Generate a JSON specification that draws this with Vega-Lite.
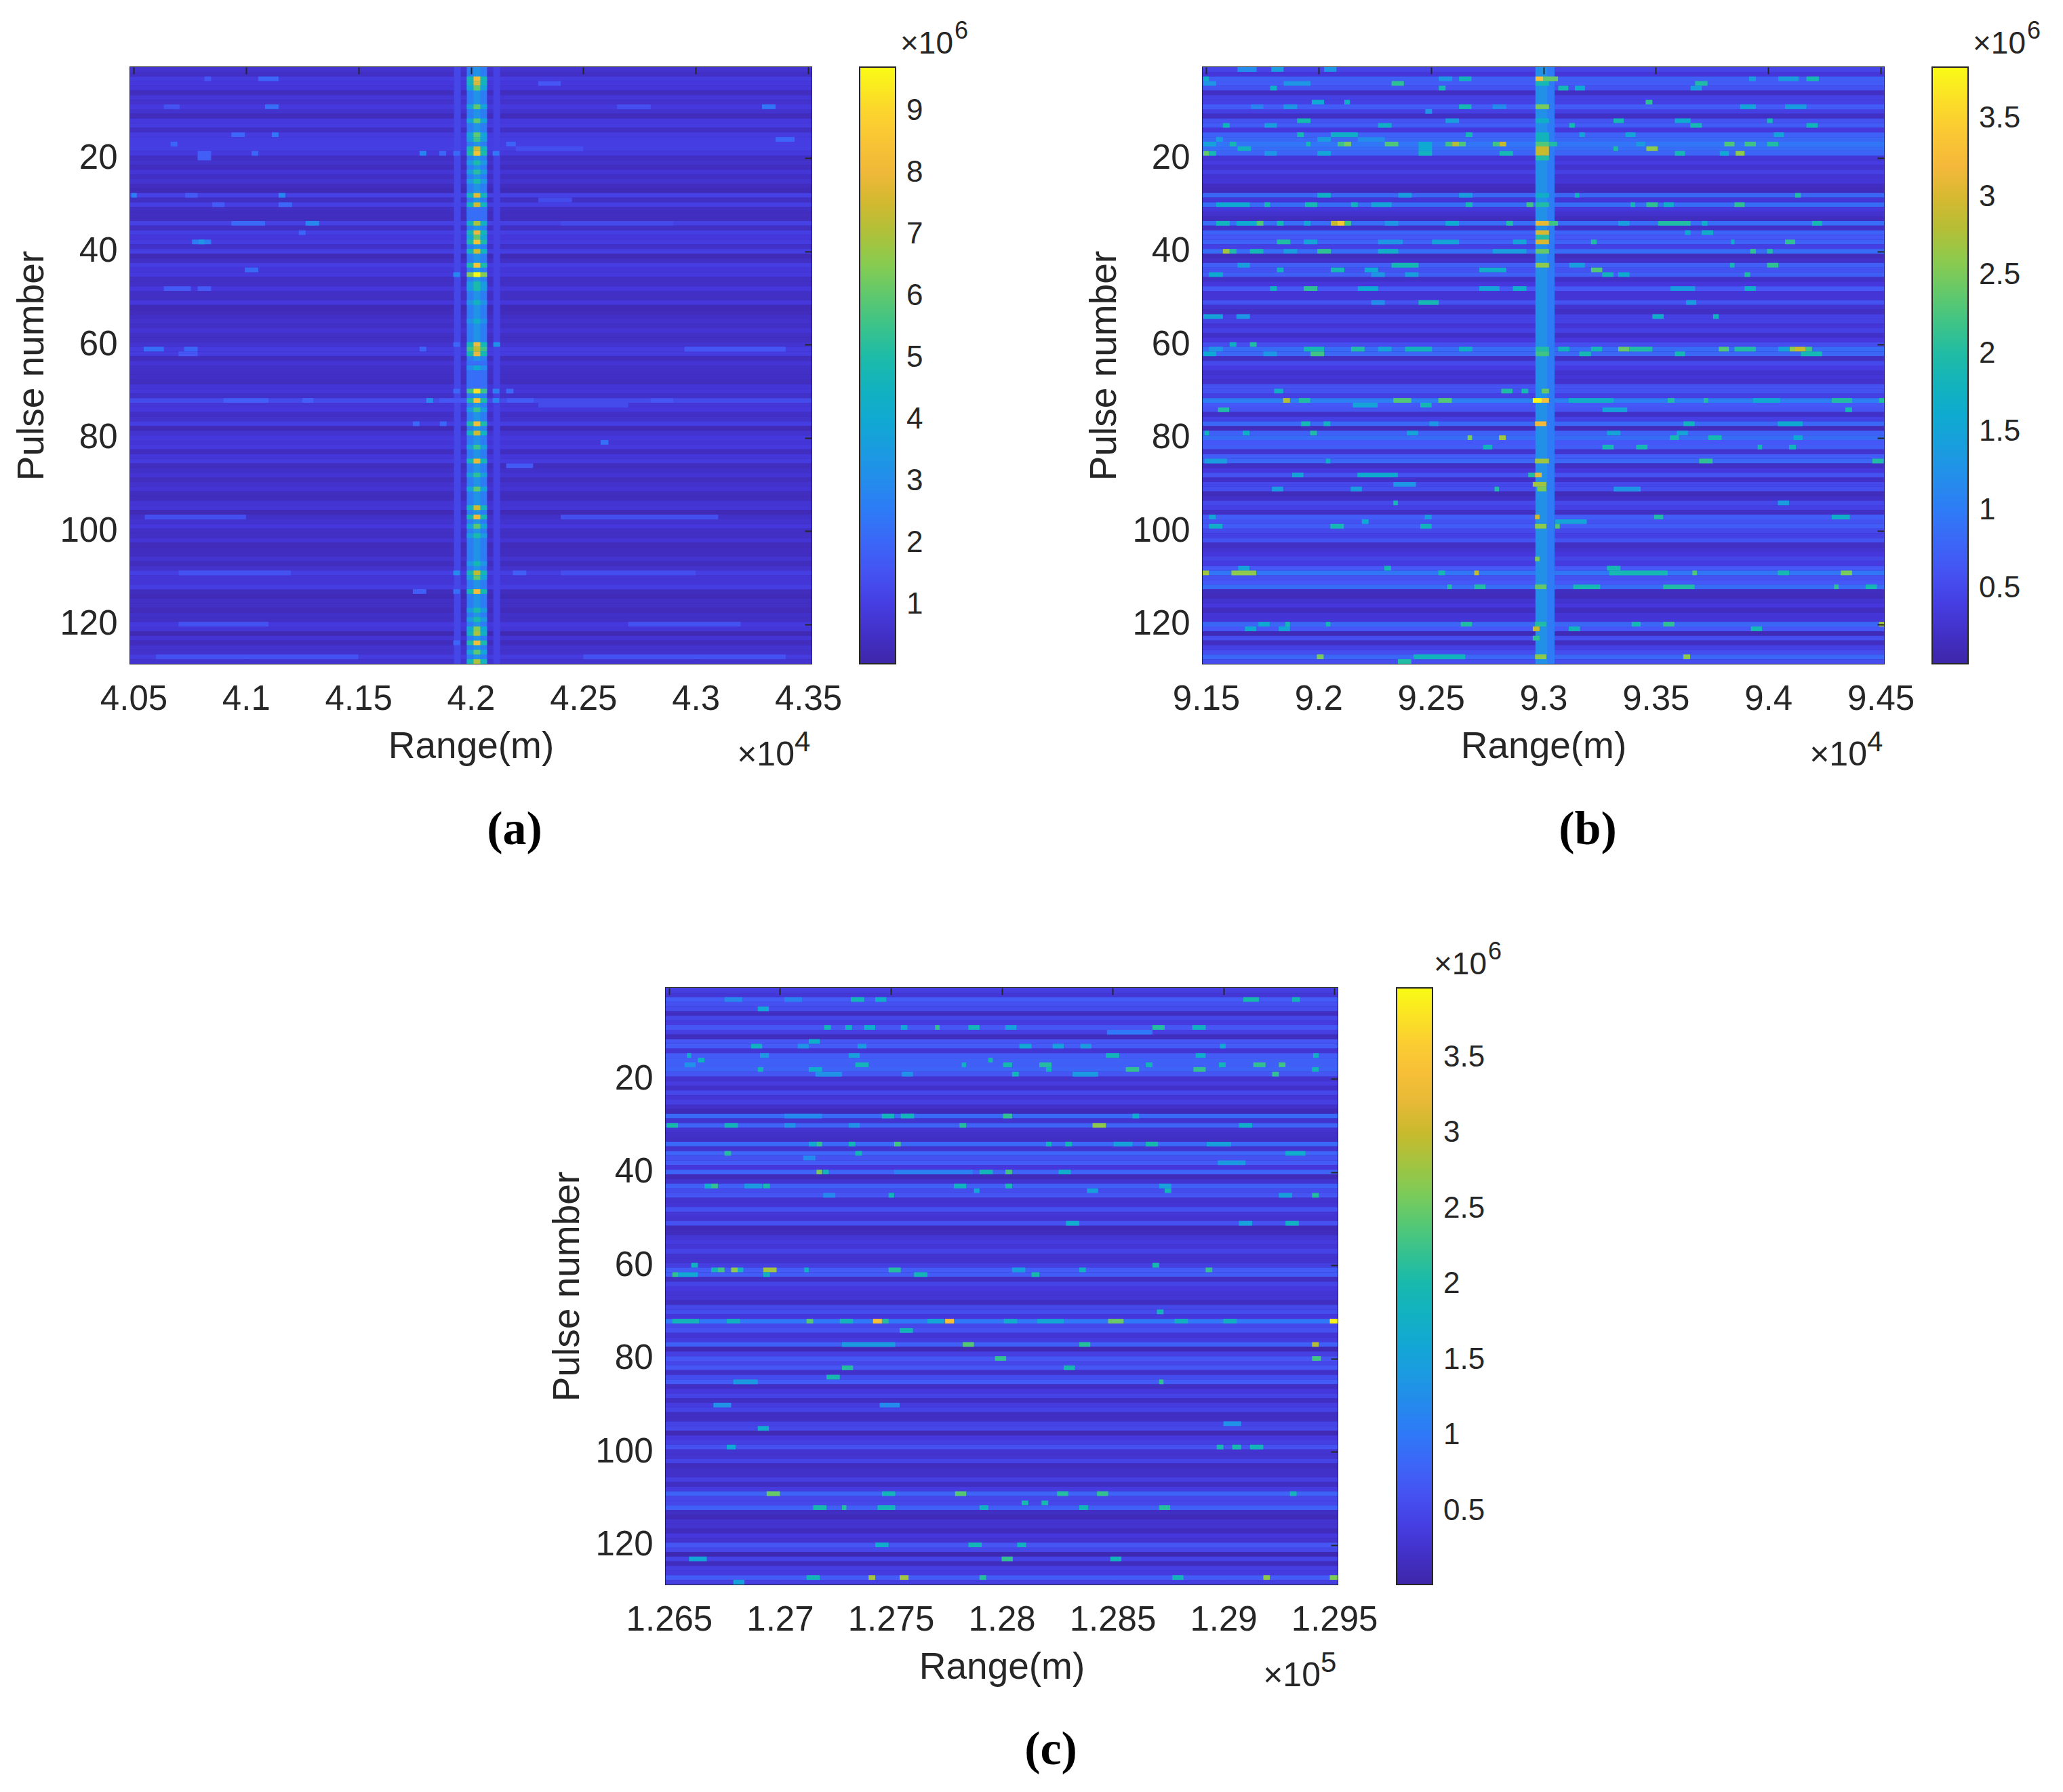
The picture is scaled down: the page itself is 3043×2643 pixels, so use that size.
{"$schema":"https://vega.github.io/schema/vega-lite/v6.json","padding":{"left":18,"top":27,"right":0,"bottom":0},"background":"white","config":{"view":{"stroke":"#262626","strokeWidth":2,"fill":"#3b2bb0"},"font":"Liberation Sans","axis":{"labelFont":"Liberation Sans","titleFont":"Liberation Sans","labelFontSize":51,"titleFontSize":55,"labelColor":"#262626","titleColor":"#262626","tickColor":"#262626","domain":false,"grid":false,"tickSize":-10,"tickWidth":2,"titleFontWeight":"normal"},"legend":{"labelFont":"Liberation Sans","labelFontSize":44,"labelColor":"#262626"}},"datasets":{
"ab":[{"y":0.5,"y2":1.5,"v":0.65},{"y":1.5,"y2":2.5,"v":0.5},{"y":2.5,"y2":3.5,"v":0.95},{"y":3.5,"y2":4.5,"v":0.85},{"y":4.5,"y2":5.5,"v":0.8},{"y":5.5,"y2":6.5,"v":0.38},{"y":6.5,"y2":7.5,"v":0.75},{"y":7.5,"y2":8.5,"v":0.6},{"y":8.5,"y2":9.5,"v":0.9},{"y":9.5,"y2":10.5,"v":0.65},{"y":10.5,"y2":11.5,"v":0.33},{"y":11.5,"y2":12.5,"v":0.9},{"y":12.5,"y2":13.5,"v":0.95},{"y":13.5,"y2":14.5,"v":0.5},{"y":14.5,"y2":15.5,"v":0.95},{"y":15.5,"y2":16.5,"v":1},{"y":16.5,"y2":17.5,"v":1},{"y":17.5,"y2":18.5,"v":1.05},{"y":18.5,"y2":19.5,"v":0.9},{"y":19.5,"y2":20.5,"v":0.46},{"y":20.5,"y2":21.5,"v":0.6},{"y":21.5,"y2":22.5,"v":0.42},{"y":22.5,"y2":23.5,"v":0.75},{"y":23.5,"y2":24.5,"v":0.5},{"y":24.5,"y2":25.5,"v":0.65},{"y":25.5,"y2":26.5,"v":0.42},{"y":26.5,"y2":27.5,"v":0.3},{"y":27.5,"y2":28.5,"v":1.1},{"y":28.5,"y2":29.5,"v":0.46},{"y":29.5,"y2":30.5,"v":1.05},{"y":30.5,"y2":31.5,"v":0.46},{"y":31.5,"y2":32.5,"v":0.42},{"y":32.5,"y2":33.5,"v":0.38},{"y":33.5,"y2":34.5,"v":1.1},{"y":34.5,"y2":35.5,"v":0.46},{"y":35.5,"y2":36.5,"v":1.05},{"y":36.5,"y2":37.5,"v":0.85},{"y":37.5,"y2":38.5,"v":0.95},{"y":38.5,"y2":39.5,"v":0.55},{"y":39.5,"y2":40.5,"v":1.05},{"y":40.5,"y2":41.5,"v":0.3},{"y":41.5,"y2":42.5,"v":0.46},{"y":42.5,"y2":43.5,"v":1},{"y":43.5,"y2":44.5,"v":0.8},{"y":44.5,"y2":45.5,"v":0.9},{"y":45.5,"y2":46.5,"v":0.46},{"y":46.5,"y2":47.5,"v":0.5},{"y":47.5,"y2":48.5,"v":0.85},{"y":48.5,"y2":49.5,"v":0.5},{"y":49.5,"y2":50.5,"v":0.46},{"y":50.5,"y2":51.5,"v":0.85},{"y":51.5,"y2":52.5,"v":0.3},{"y":52.5,"y2":53.5,"v":0.33},{"y":53.5,"y2":54.5,"v":0.5},{"y":54.5,"y2":55.5,"v":0.6},{"y":55.5,"y2":56.5,"v":0.5},{"y":56.5,"y2":57.5,"v":0.7},{"y":57.5,"y2":58.5,"v":0.46},{"y":58.5,"y2":59.5,"v":0.46},{"y":59.5,"y2":60.5,"v":0.65},{"y":60.5,"y2":61.5,"v":0.95},{"y":61.5,"y2":62.5,"v":0.95},{"y":62.5,"y2":63.5,"v":0.38},{"y":63.5,"y2":64.5,"v":0.7},{"y":64.5,"y2":65.5,"v":0.55},{"y":65.5,"y2":66.5,"v":0.5},{"y":66.5,"y2":67.5,"v":0.5},{"y":67.5,"y2":68.5,"v":0.38},{"y":68.5,"y2":69.5,"v":0.75},{"y":69.5,"y2":70.5,"v":0.8},{"y":70.5,"y2":71.5,"v":0.55},{"y":71.5,"y2":72.5,"v":1.3},{"y":72.5,"y2":73.5,"v":0.75},{"y":73.5,"y2":74.5,"v":0.85},{"y":74.5,"y2":75.5,"v":0.5},{"y":75.5,"y2":76.5,"v":0.6},{"y":76.5,"y2":77.5,"v":1},{"y":77.5,"y2":78.5,"v":0.25},{"y":78.5,"y2":79.5,"v":0.65},{"y":79.5,"y2":80.5,"v":0.9},{"y":80.5,"y2":81.5,"v":0.75},{"y":81.5,"y2":82.5,"v":0.9},{"y":82.5,"y2":83.5,"v":0.42},{"y":83.5,"y2":84.5,"v":0.8},{"y":84.5,"y2":85.5,"v":0.95},{"y":85.5,"y2":86.5,"v":0.38},{"y":86.5,"y2":87.5,"v":0.55},{"y":87.5,"y2":88.5,"v":0.7},{"y":88.5,"y2":89.5,"v":0.38},{"y":89.5,"y2":90.5,"v":0.6},{"y":90.5,"y2":91.5,"v":0.7},{"y":91.5,"y2":92.5,"v":0.38},{"y":92.5,"y2":93.5,"v":0.38},{"y":93.5,"y2":94.5,"v":0.7},{"y":94.5,"y2":95.5,"v":0.75},{"y":95.5,"y2":96.5,"v":0.25},{"y":96.5,"y2":97.5,"v":0.55},{"y":97.5,"y2":98.5,"v":0.65},{"y":98.5,"y2":99.5,"v":0.85},{"y":99.5,"y2":100.5,"v":0.46},{"y":100.5,"y2":101.5,"v":0.46},{"y":101.5,"y2":102.5,"v":0.7},{"y":102.5,"y2":103.5,"v":0.33},{"y":103.5,"y2":104.5,"v":0.42},{"y":104.5,"y2":105.5,"v":0.42},{"y":105.5,"y2":106.5,"v":0.65},{"y":106.5,"y2":107.5,"v":0.38},{"y":107.5,"y2":108.5,"v":0.6},{"y":108.5,"y2":109.5,"v":1.05},{"y":109.5,"y2":110.5,"v":0.75},{"y":110.5,"y2":111.5,"v":0.75},{"y":111.5,"y2":112.5,"v":1},{"y":112.5,"y2":113.5,"v":0.38},{"y":113.5,"y2":114.5,"v":0.3},{"y":114.5,"y2":115.5,"v":0.46},{"y":115.5,"y2":116.5,"v":0.46},{"y":116.5,"y2":117.5,"v":0.33},{"y":117.5,"y2":118.5,"v":0.55},{"y":118.5,"y2":119.5,"v":0.46},{"y":119.5,"y2":120.5,"v":0.9},{"y":120.5,"y2":121.5,"v":0.75},{"y":121.5,"y2":122.5,"v":0.22},{"y":122.5,"y2":123.5,"v":0.7},{"y":123.5,"y2":124.5,"v":0.33},{"y":124.5,"y2":125.5,"v":0.65},{"y":125.5,"y2":126.5,"v":0.6},{"y":126.5,"y2":127.5,"v":0.95},{"y":127.5,"y2":128.5,"v":0.65}],
"as":[{"y":0.5,"y2":128.5,"x":41925,"x2":41955,"v":1.2},{"y":0.5,"y2":128.5,"x":42100,"x2":42130,"v":1.1},{"y":0.5,"y2":128.5,"x":41982,"x2":42072,"v":2.6},{"y":0.5,"y2":128.5,"x":42012,"x2":42042,"v":3.2},{"y":30.5,"y2":33.5,"x":41982,"x2":42072,"v":2.2},{"y":63.5,"y2":69.5,"x":41982,"x2":42072,"v":2.2},{"y":2.5,"y2":3.5,"x":41982,"x2":42072,"v":4.9},{"y":2.5,"y2":3.5,"x":42012,"x2":42042,"v":8.2},{"y":3.5,"y2":4.5,"x":41982,"x2":42072,"v":4.6},{"y":3.5,"y2":4.5,"x":42012,"x2":42042,"v":7.7},{"y":4.5,"y2":5.5,"x":41982,"x2":42072,"v":3.8},{"y":4.5,"y2":5.5,"x":42012,"x2":42042,"v":6},{"y":8.5,"y2":9.5,"x":41982,"x2":42072,"v":3.8},{"y":8.5,"y2":9.5,"x":42012,"x2":42042,"v":6},{"y":11.5,"y2":12.5,"x":41982,"x2":42072,"v":3.8},{"y":11.5,"y2":12.5,"x":42012,"x2":42042,"v":6},{"y":14.5,"y2":15.5,"x":41982,"x2":42072,"v":3.8},{"y":14.5,"y2":15.5,"x":42012,"x2":42042,"v":6},{"y":15.5,"y2":16.5,"x":41982,"x2":42072,"v":3.6},{"y":15.5,"y2":16.5,"x":42012,"x2":42042,"v":5.5},{"y":17.5,"y2":18.5,"x":41982,"x2":42072,"v":4.7},{"y":17.5,"y2":18.5,"x":42012,"x2":42042,"v":7.5},{"y":18.5,"y2":19.5,"x":41982,"x2":42072,"v":5},{"y":18.5,"y2":19.5,"x":42012,"x2":42042,"v":8.4},{"y":20.5,"y2":21.5,"x":41982,"x2":42072,"v":3.4},{"y":20.5,"y2":21.5,"x":42012,"x2":42042,"v":5},{"y":22.5,"y2":23.5,"x":41982,"x2":42072,"v":3.5},{"y":22.5,"y2":23.5,"x":42012,"x2":42042,"v":5.2},{"y":24.5,"y2":25.5,"x":41982,"x2":42072,"v":3.4},{"y":24.5,"y2":25.5,"x":42012,"x2":42042,"v":5},{"y":27.5,"y2":28.5,"x":41982,"x2":42072,"v":4.6},{"y":27.5,"y2":28.5,"x":42012,"x2":42042,"v":7.8},{"y":29.5,"y2":30.5,"x":41982,"x2":42072,"v":4.6},{"y":29.5,"y2":30.5,"x":42012,"x2":42042,"v":7.5},{"y":33.5,"y2":34.5,"x":41982,"x2":42072,"v":4.4},{"y":33.5,"y2":34.5,"x":42012,"x2":42042,"v":7},{"y":35.5,"y2":36.5,"x":41982,"x2":42072,"v":4.8},{"y":35.5,"y2":36.5,"x":42012,"x2":42042,"v":8},{"y":36.5,"y2":37.5,"x":41982,"x2":42072,"v":3.8},{"y":36.5,"y2":37.5,"x":42012,"x2":42042,"v":6},{"y":37.5,"y2":38.5,"x":41982,"x2":42072,"v":5},{"y":37.5,"y2":38.5,"x":42012,"x2":42042,"v":8.5},{"y":39.5,"y2":40.5,"x":41982,"x2":42072,"v":4.6},{"y":39.5,"y2":40.5,"x":42012,"x2":42042,"v":7.5},{"y":42.5,"y2":43.5,"x":41982,"x2":42072,"v":5},{"y":42.5,"y2":43.5,"x":42012,"x2":42042,"v":8.5},{"y":44.5,"y2":45.5,"x":41982,"x2":42072,"v":6.5},{"y":44.5,"y2":45.5,"x":42012,"x2":42042,"v":9.7},{"y":46.5,"y2":48.5,"x":41982,"x2":42072,"v":3.5},{"y":46.5,"y2":48.5,"x":42012,"x2":42042,"v":5},{"y":50.5,"y2":51.5,"x":41982,"x2":42072,"v":3.2},{"y":50.5,"y2":51.5,"x":42012,"x2":42042,"v":4.5},{"y":54.5,"y2":55.5,"x":41982,"x2":42072,"v":3.1},{"y":54.5,"y2":55.5,"x":42012,"x2":42042,"v":4.3},{"y":59.5,"y2":60.5,"x":41982,"x2":42072,"v":4.8},{"y":59.5,"y2":60.5,"x":42012,"x2":42042,"v":8.2},{"y":60.5,"y2":61.5,"x":41982,"x2":42072,"v":5.5},{"y":60.5,"y2":61.5,"x":42012,"x2":42042,"v":7.3},{"y":61.5,"y2":62.5,"x":41982,"x2":42072,"v":4.8},{"y":61.5,"y2":62.5,"x":42012,"x2":42042,"v":8},{"y":64.5,"y2":65.5,"x":41982,"x2":42072,"v":3},{"y":64.5,"y2":65.5,"x":42012,"x2":42042,"v":4},{"y":69.5,"y2":70.5,"x":41982,"x2":42072,"v":5.5},{"y":69.5,"y2":70.5,"x":42012,"x2":42042,"v":9.2},{"y":71.5,"y2":72.5,"x":41982,"x2":42072,"v":5},{"y":71.5,"y2":72.5,"x":42012,"x2":42042,"v":8.4},{"y":73.5,"y2":74.5,"x":41982,"x2":42072,"v":3.6},{"y":73.5,"y2":74.5,"x":42012,"x2":42042,"v":5.5},{"y":76.5,"y2":77.5,"x":41982,"x2":42072,"v":5},{"y":76.5,"y2":77.5,"x":42012,"x2":42042,"v":8.3},{"y":78.5,"y2":79.5,"x":41982,"x2":42072,"v":4.6},{"y":78.5,"y2":79.5,"x":42012,"x2":42042,"v":7.5},{"y":81.5,"y2":82.5,"x":41982,"x2":42072,"v":3.6},{"y":81.5,"y2":82.5,"x":42012,"x2":42042,"v":5.5},{"y":84.5,"y2":85.5,"x":41982,"x2":42072,"v":4.7},{"y":84.5,"y2":85.5,"x":42012,"x2":42042,"v":7.9},{"y":87.5,"y2":88.5,"x":41982,"x2":42072,"v":3.6},{"y":87.5,"y2":88.5,"x":42012,"x2":42042,"v":5.3},{"y":90.5,"y2":91.5,"x":41982,"x2":42072,"v":3.8},{"y":90.5,"y2":91.5,"x":42012,"x2":42042,"v":6},{"y":94.5,"y2":95.5,"x":41982,"x2":42072,"v":4.6},{"y":94.5,"y2":95.5,"x":42012,"x2":42042,"v":7.5},{"y":96.5,"y2":97.5,"x":41982,"x2":42072,"v":4.9},{"y":96.5,"y2":97.5,"x":42012,"x2":42042,"v":8.2},{"y":98.5,"y2":99.5,"x":41982,"x2":42072,"v":3.8},{"y":98.5,"y2":99.5,"x":42012,"x2":42042,"v":6},{"y":100.5,"y2":101.5,"x":41982,"x2":42072,"v":3.5},{"y":100.5,"y2":101.5,"x":42012,"x2":42042,"v":5},{"y":106.5,"y2":107.5,"x":41982,"x2":42072,"v":3.3},{"y":106.5,"y2":107.5,"x":42012,"x2":42042,"v":4.8},{"y":108.5,"y2":109.5,"x":41982,"x2":42072,"v":4.8},{"y":108.5,"y2":109.5,"x":42012,"x2":42042,"v":7.3},{"y":109.5,"y2":110.5,"x":41982,"x2":42072,"v":3.8},{"y":109.5,"y2":110.5,"x":42012,"x2":42042,"v":6},{"y":112.5,"y2":113.5,"x":41982,"x2":42072,"v":4.9},{"y":112.5,"y2":113.5,"x":42012,"x2":42042,"v":8.2},{"y":116.5,"y2":117.5,"x":41982,"x2":42072,"v":3.5},{"y":116.5,"y2":117.5,"x":42012,"x2":42042,"v":5},{"y":118.5,"y2":119.5,"x":41982,"x2":42072,"v":3.5},{"y":118.5,"y2":119.5,"x":42012,"x2":42042,"v":5},{"y":120.5,"y2":121.5,"x":41982,"x2":42072,"v":4},{"y":120.5,"y2":121.5,"x":42012,"x2":42042,"v":6.5},{"y":121.5,"y2":122.5,"x":41982,"x2":42072,"v":4.4},{"y":121.5,"y2":122.5,"x":42012,"x2":42042,"v":7},{"y":123.5,"y2":124.5,"x":41982,"x2":42072,"v":5},{"y":123.5,"y2":124.5,"x":42012,"x2":42042,"v":8.3},{"y":125.5,"y2":126.5,"x":41982,"x2":42072,"v":3.8},{"y":125.5,"y2":126.5,"x":42012,"x2":42042,"v":6},{"y":127.5,"y2":128.5,"x":41982,"x2":42072,"v":4.6},{"y":127.5,"y2":128.5,"x":42012,"x2":42042,"v":7},
{"y":27.5,"y2":28.5,"x":40490,"x2":40515,"v":2.6},{"y":27.5,"y2":28.5,"x":40730,"x2":40785,"v":1.7},{"y":27.5,"y2":28.5,"x":41145,"x2":41175,"v":2.8},{"y":29.5,"y2":30.5,"x":40850,"x2":40905,"v":1.7},{"y":29.5,"y2":30.5,"x":41145,"x2":41205,"v":2},{"y":33.5,"y2":34.5,"x":40935,"x2":41085,"v":2.1},{"y":33.5,"y2":34.5,"x":41265,"x2":41325,"v":2.9},{"y":37.5,"y2":38.5,"x":40760,"x2":40845,"v":2.6},{"y":37.5,"y2":38.5,"x":40790,"x2":40815,"v":3.2},{"y":35.5,"y2":36.5,"x":41235,"x2":41265,"v":2},{"y":43.5,"y2":44.5,"x":40995,"x2":41055,"v":2.1},{"y":47.5,"y2":48.5,"x":40635,"x2":40755,"v":1.7},{"y":47.5,"y2":48.5,"x":40785,"x2":40845,"v":1.7},{"y":60.5,"y2":61.5,"x":40545,"x2":40635,"v":2.2},{"y":60.5,"y2":61.5,"x":40725,"x2":40785,"v":2},{"y":2.5,"y2":3.5,"x":40815,"x2":40845,"v":1.6},{"y":2.5,"y2":3.5,"x":41055,"x2":41145,"v":2},{"y":8.5,"y2":9.5,"x":41085,"x2":41145,"v":2.2},{"y":8.5,"y2":9.5,"x":40635,"x2":40705,"v":1.5},{"y":14.5,"y2":15.5,"x":40935,"x2":40995,"v":2},{"y":14.5,"y2":15.5,"x":41115,"x2":41145,"v":2.4},{"y":16.5,"y2":17.5,"x":40665,"x2":40695,"v":2},{"y":18.5,"y2":20.5,"x":40785,"x2":40845,"v":1.8},{"y":18.5,"y2":19.5,"x":41025,"x2":41055,"v":2},{"y":61.5,"y2":62.5,"x":40700,"x2":40785,"v":1.6},{"y":60.5,"y2":61.5,"x":42950,"x2":43400,"v":1.6},{"y":17.5,"y2":18.5,"x":42200,"x2":42500,"v":1.4},{"y":71.5,"y2":72.5,"x":40900,"x2":41100,"v":1.8},{"y":71.5,"y2":72.5,"x":41250,"x2":41300,"v":1.8},{"y":71.5,"y2":72.5,"x":42800,"x2":42900,"v":1.6},{"y":3.5,"y2":4.5,"x":42300,"x2":42400,"v":1.6},{"y":18.5,"y2":19.5,"x":41772,"x2":41802,"v":2.8},{"y":18.5,"y2":19.5,"x":41860,"x2":41890,"v":2},{"y":18.5,"y2":19.5,"x":41922,"x2":41952,"v":2.1},{"y":18.5,"y2":19.5,"x":42097,"x2":42127,"v":2.4},{"y":71.5,"y2":72.5,"x":41802,"x2":41832,"v":3},{"y":71.5,"y2":72.5,"x":41860,"x2":41980,"v":1.6},{"y":71.5,"y2":72.5,"x":42097,"x2":42127,"v":2.8},{"y":71.5,"y2":72.5,"x":42160,"x2":42280,"v":1.7},{"y":69.5,"y2":70.5,"x":42097,"x2":42127,"v":2.6},{"y":69.5,"y2":70.5,"x":41922,"x2":41952,"v":2},{"y":69.5,"y2":70.5,"x":42157,"x2":42190,"v":2},{"y":44.5,"y2":45.5,"x":41922,"x2":41952,"v":2.9},{"y":85.5,"y2":86.5,"x":42157,"x2":42277,"v":1.7},{"y":108.5,"y2":109.5,"x":41922,"x2":41952,"v":3},{"y":108.5,"y2":109.5,"x":42187,"x2":42247,"v":1.8},{"y":112.5,"y2":113.5,"x":41742,"x2":41802,"v":1.8},{"y":112.5,"y2":113.5,"x":41922,"x2":41952,"v":2.2},{"y":123.5,"y2":124.5,"x":41922,"x2":41952,"v":2},{"y":16.5,"y2":17.5,"x":42157,"x2":42200,"v":1.9},{"y":80.5,"y2":81.5,"x":42577,"x2":42612,"v":2.2},{"y":59.5,"y2":60.5,"x":42100,"x2":42130,"v":3.1},{"y":59.5,"y2":60.5,"x":41922,"x2":41952,"v":2},{"y":60.5,"y2":61.5,"x":41772,"x2":41802,"v":1.9},{"y":76.5,"y2":77.5,"x":41742,"x2":41772,"v":2},{"y":76.5,"y2":77.5,"x":41862,"x2":41892,"v":2},{"y":8.5,"y2":9.5,"x":43295,"x2":43355,"v":2.4},{"y":15.5,"y2":16.5,"x":43355,"x2":43440,"v":2},{"y":8.5,"y2":9.5,"x":42650,"x2":42800,"v":1.4},{"y":28.5,"y2":29.5,"x":42300,"x2":42450,"v":1.3},{"y":33.5,"y2":34.5,"x":42400,"x2":42900,"v":1.3},{"y":72.5,"y2":73.5,"x":42300,"x2":42700,"v":1.3},{"y":108.5,"y2":109.5,"x":40700,"x2":41200,"v":1.5},{"y":108.5,"y2":109.5,"x":42400,"x2":43000,"v":1.4},{"y":126.5,"y2":127.5,"x":40600,"x2":41500,"v":1.5},{"y":126.5,"y2":127.5,"x":42500,"x2":43400,"v":1.5},{"y":119.5,"y2":120.5,"x":40700,"x2":41100,"v":1.5},{"y":119.5,"y2":120.5,"x":42700,"x2":43200,"v":1.5},{"y":96.5,"y2":97.5,"x":40550,"x2":41000,"v":1.4},{"y":96.5,"y2":97.5,"x":42400,"x2":43100,"v":1.4}],
"bb":[{"y":0.5,"y2":1.5,"v":0.46},{"y":1.5,"y2":2.5,"v":0.32},{"y":2.5,"y2":3.5,"v":0.72},{"y":3.5,"y2":4.5,"v":0.68},{"y":4.5,"y2":5.5,"v":0.6},{"y":5.5,"y2":6.5,"v":0.2},{"y":6.5,"y2":7.5,"v":0.42},{"y":7.5,"y2":8.5,"v":0.42},{"y":8.5,"y2":9.5,"v":0.68},{"y":9.5,"y2":10.5,"v":0.42},{"y":10.5,"y2":11.5,"v":0.2},{"y":11.5,"y2":12.5,"v":0.6},{"y":12.5,"y2":13.5,"v":0.7},{"y":13.5,"y2":14.5,"v":0.34},{"y":14.5,"y2":15.5,"v":0.75},{"y":15.5,"y2":16.5,"v":0.8},{"y":16.5,"y2":17.5,"v":0.95},{"y":17.5,"y2":18.5,"v":0.85},{"y":18.5,"y2":19.5,"v":0.78},{"y":19.5,"y2":20.5,"v":0.3},{"y":20.5,"y2":21.5,"v":0.38},{"y":21.5,"y2":22.5,"v":0.26},{"y":22.5,"y2":23.5,"v":0.42},{"y":23.5,"y2":24.5,"v":0.28},{"y":24.5,"y2":25.5,"v":0.3},{"y":25.5,"y2":26.5,"v":0.16},{"y":26.5,"y2":27.5,"v":0.14},{"y":27.5,"y2":28.5,"v":0.8},{"y":28.5,"y2":29.5,"v":0.3},{"y":29.5,"y2":30.5,"v":0.85},{"y":30.5,"y2":31.5,"v":0.34},{"y":31.5,"y2":32.5,"v":0.24},{"y":32.5,"y2":33.5,"v":0.16},{"y":33.5,"y2":34.5,"v":0.85},{"y":34.5,"y2":35.5,"v":0.22},{"y":35.5,"y2":36.5,"v":0.75},{"y":36.5,"y2":37.5,"v":0.65},{"y":37.5,"y2":38.5,"v":0.75},{"y":38.5,"y2":39.5,"v":0.42},{"y":39.5,"y2":40.5,"v":0.85},{"y":40.5,"y2":41.5,"v":0.14},{"y":41.5,"y2":42.5,"v":0.22},{"y":42.5,"y2":43.5,"v":0.72},{"y":43.5,"y2":44.5,"v":0.6},{"y":44.5,"y2":45.5,"v":0.72},{"y":45.5,"y2":46.5,"v":0.22},{"y":46.5,"y2":47.5,"v":0.34},{"y":47.5,"y2":48.5,"v":0.65},{"y":48.5,"y2":49.5,"v":0.3},{"y":49.5,"y2":50.5,"v":0.3},{"y":50.5,"y2":51.5,"v":0.6},{"y":51.5,"y2":52.5,"v":0.26},{"y":52.5,"y2":53.5,"v":0.2},{"y":53.5,"y2":54.5,"v":0.42},{"y":54.5,"y2":55.5,"v":0.42},{"y":55.5,"y2":56.5,"v":0.3},{"y":56.5,"y2":57.5,"v":0.42},{"y":57.5,"y2":58.5,"v":0.22},{"y":58.5,"y2":59.5,"v":0.34},{"y":59.5,"y2":60.5,"v":0.55},{"y":60.5,"y2":61.5,"v":0.85},{"y":61.5,"y2":62.5,"v":0.8},{"y":62.5,"y2":63.5,"v":0.2},{"y":63.5,"y2":64.5,"v":0.5},{"y":64.5,"y2":65.5,"v":0.38},{"y":65.5,"y2":66.5,"v":0.26},{"y":66.5,"y2":67.5,"v":0.3},{"y":67.5,"y2":68.5,"v":0.24},{"y":68.5,"y2":69.5,"v":0.6},{"y":69.5,"y2":70.5,"v":0.6},{"y":70.5,"y2":71.5,"v":0.42},{"y":71.5,"y2":72.5,"v":1.05},{"y":72.5,"y2":73.5,"v":0.65},{"y":73.5,"y2":74.5,"v":0.6},{"y":74.5,"y2":75.5,"v":0.22},{"y":75.5,"y2":76.5,"v":0.42},{"y":76.5,"y2":77.5,"v":0.8},{"y":77.5,"y2":78.5,"v":0.14},{"y":78.5,"y2":79.5,"v":0.75},{"y":79.5,"y2":80.5,"v":0.85},{"y":80.5,"y2":81.5,"v":0.65},{"y":81.5,"y2":82.5,"v":0.7},{"y":82.5,"y2":83.5,"v":0.26},{"y":83.5,"y2":84.5,"v":0.7},{"y":84.5,"y2":85.5,"v":0.8},{"y":85.5,"y2":86.5,"v":0.2},{"y":86.5,"y2":87.5,"v":0.34},{"y":87.5,"y2":88.5,"v":0.6},{"y":88.5,"y2":89.5,"v":0.22},{"y":89.5,"y2":90.5,"v":0.5},{"y":90.5,"y2":91.5,"v":0.55},{"y":91.5,"y2":92.5,"v":0.14},{"y":92.5,"y2":93.5,"v":0.22},{"y":93.5,"y2":94.5,"v":0.5},{"y":94.5,"y2":95.5,"v":0.42},{"y":95.5,"y2":96.5,"v":0.2},{"y":96.5,"y2":97.5,"v":0.7},{"y":97.5,"y2":98.5,"v":0.6},{"y":98.5,"y2":99.5,"v":0.7},{"y":99.5,"y2":100.5,"v":0.5},{"y":100.5,"y2":101.5,"v":0.42},{"y":101.5,"y2":102.5,"v":0.6},{"y":102.5,"y2":103.5,"v":0.2},{"y":103.5,"y2":104.5,"v":0.26},{"y":104.5,"y2":105.5,"v":0.34},{"y":105.5,"y2":106.5,"v":0.46},{"y":106.5,"y2":107.5,"v":0.38},{"y":107.5,"y2":108.5,"v":0.65},{"y":108.5,"y2":109.5,"v":0.95},{"y":109.5,"y2":110.5,"v":0.6},{"y":110.5,"y2":111.5,"v":0.65},{"y":111.5,"y2":112.5,"v":0.85},{"y":112.5,"y2":113.5,"v":0.16},{"y":113.5,"y2":114.5,"v":0.14},{"y":114.5,"y2":115.5,"v":0.26},{"y":115.5,"y2":116.5,"v":0.34},{"y":116.5,"y2":117.5,"v":0.16},{"y":117.5,"y2":118.5,"v":0.3},{"y":118.5,"y2":119.5,"v":0.3},{"y":119.5,"y2":120.5,"v":0.8},{"y":120.5,"y2":121.5,"v":0.65},{"y":121.5,"y2":122.5,"v":0.12},{"y":122.5,"y2":123.5,"v":0.55},{"y":123.5,"y2":124.5,"v":0.18},{"y":124.5,"y2":125.5,"v":0.42},{"y":125.5,"y2":126.5,"v":0.55},{"y":126.5,"y2":127.5,"v":0.8},{"y":127.5,"y2":128.5,"v":0.55}],
"bs":[{"y":0.5,"y2":128.5,"x":92965,"x2":93050,"v":1},{"y":0.5,"y2":128.5,"x":92965,"x2":93017,"v":1.25},{"y":2.5,"y2":3.5,"x":92965,"x2":93000,"v":3.3},{"y":2.5,"y2":3.5,"x":93000,"x2":93065,"v":2.4},{"y":3.5,"y2":4.5,"x":92965,"x2":93025,"v":1.9},{"y":8.5,"y2":9.5,"x":92965,"x2":93025,"v":2.5},{"y":11.5,"y2":12.5,"x":92965,"x2":93025,"v":1.7},{"y":14.5,"y2":16.5,"x":92965,"x2":93025,"v":1.8},{"y":16.5,"y2":17.5,"x":92965,"x2":93025,"v":2.3},{"y":17.5,"y2":19.5,"x":92965,"x2":93025,"v":2.9},{"y":19.5,"y2":20.5,"x":92965,"x2":93025,"v":2},{"y":27.5,"y2":28.5,"x":92965,"x2":93025,"v":1.7},{"y":29.5,"y2":30.5,"x":92965,"x2":93025,"v":2},{"y":33.5,"y2":34.5,"x":92965,"x2":93025,"v":3.1},{"y":35.5,"y2":36.5,"x":92965,"x2":93025,"v":3},{"y":36.5,"y2":37.5,"x":92965,"x2":93025,"v":2},{"y":37.5,"y2":38.5,"x":92965,"x2":93025,"v":3},{"y":39.5,"y2":40.5,"x":92965,"x2":93025,"v":2.4},{"y":42.5,"y2":43.5,"x":92965,"x2":93025,"v":2.6},{"y":60.5,"y2":61.5,"x":92965,"x2":93025,"v":2},{"y":61.5,"y2":62.5,"x":92965,"x2":93025,"v":2.2},{"y":0.5,"y2":1.5,"x":91640,"x2":91725,"v":1.2},{"y":0.5,"y2":1.5,"x":91790,"x2":91845,"v":1.4},{"y":0.5,"y2":1.5,"x":92025,"x2":92080,"v":1.3},{"y":2.5,"y2":3.5,"x":91488,"x2":91513,"v":1.7},{"y":2.5,"y2":3.5,"x":92535,"x2":92595,"v":1.3},{"y":2.5,"y2":3.5,"x":92625,"x2":92680,"v":1.8},{"y":3.5,"y2":4.5,"x":91488,"x2":91545,"v":1.3},{"y":3.5,"y2":4.5,"x":91845,"x2":91965,"v":1.3},{"y":3.5,"y2":4.5,"x":92325,"x2":92380,"v":2.1},{"y":4.5,"y2":5.5,"x":91785,"x2":91815,"v":1.7},{"y":4.5,"y2":5.5,"x":92535,"x2":92565,"v":1.9},{"y":7.5,"y2":8.5,"x":91970,"x2":92025,"v":1.6},{"y":7.5,"y2":8.5,"x":92115,"x2":92140,"v":1.7},{"y":8.5,"y2":9.5,"x":91845,"x2":91905,"v":1.3},{"y":8.5,"y2":9.5,"x":92625,"x2":92680,"v":1.9},{"y":8.5,"y2":9.5,"x":91700,"x2":91755,"v":1.1},{"y":8.5,"y2":9.5,"x":92775,"x2":92835,"v":1.2},{"y":9.5,"y2":10.5,"x":92475,"x2":92505,"v":1.3},{"y":11.5,"y2":12.5,"x":91905,"x2":91965,"v":1.9},{"y":11.5,"y2":12.5,"x":92565,"x2":92625,"v":1.4},{"y":12.5,"y2":13.5,"x":91575,"x2":91605,"v":1.8},{"y":12.5,"y2":13.5,"x":91760,"x2":91815,"v":1.4},{"y":12.5,"y2":13.5,"x":92265,"x2":92325,"v":1.7},{"y":14.5,"y2":15.5,"x":91905,"x2":91935,"v":1.9},{"y":14.5,"y2":15.5,"x":92055,"x2":92175,"v":1.7},{"y":14.5,"y2":15.5,"x":92655,"x2":92685,"v":1.9},{"y":15.5,"y2":16.5,"x":91995,"x2":92055,"v":1.4},{"y":15.5,"y2":16.5,"x":91545,"x2":91575,"v":1.4},{"y":15.5,"y2":16.5,"x":92175,"x2":92295,"v":1.2},{"y":16.5,"y2":17.5,"x":91488,"x2":91545,"v":1.5},{"y":16.5,"y2":17.5,"x":91605,"x2":91635,"v":1.9},{"y":16.5,"y2":17.5,"x":92085,"x2":92115,"v":2.2},{"y":16.5,"y2":17.5,"x":92115,"x2":92145,"v":2.5},{"y":16.5,"y2":17.5,"x":92295,"x2":92355,"v":2.3},{"y":16.5,"y2":17.5,"x":92565,"x2":92595,"v":2.2},{"y":16.5,"y2":17.5,"x":92595,"x2":92625,"v":2.8},{"y":16.5,"y2":17.5,"x":92625,"x2":92655,"v":2.3},{"y":16.5,"y2":17.5,"x":92775,"x2":92805,"v":2.2},{"y":16.5,"y2":17.5,"x":92805,"x2":92835,"v":2.9},{"y":16.5,"y2":17.5,"x":92445,"x2":92505,"v":1.6},{"y":16.5,"y2":17.5,"x":91945,"x2":91965,"v":1.9},{"y":17.5,"y2":18.5,"x":91640,"x2":91700,"v":1.8},{"y":17.5,"y2":18.5,"x":92445,"x2":92505,"v":1.6},{"y":18.5,"y2":19.5,"x":91488,"x2":91513,"v":2.4},{"y":18.5,"y2":19.5,"x":91513,"x2":91545,"v":1.9},{"y":18.5,"y2":19.5,"x":91995,"x2":92055,"v":1.5},{"y":18.5,"y2":19.5,"x":92445,"x2":92505,"v":1.8},{"y":18.5,"y2":19.5,"x":91760,"x2":91815,"v":1.3},{"y":18.5,"y2":19.5,"x":92805,"x2":92865,"v":1.9},{"y":27.5,"y2":28.5,"x":91995,"x2":92055,"v":1.7},{"y":27.5,"y2":28.5,"x":92355,"x2":92415,"v":1.4},{"y":27.5,"y2":28.5,"x":92625,"x2":92685,"v":1.4},{"y":29.5,"y2":30.5,"x":91545,"x2":91695,"v":1.6},{"y":29.5,"y2":30.5,"x":91760,"x2":91785,"v":1.9},{"y":29.5,"y2":30.5,"x":91940,"x2":91995,"v":1.9},{"y":29.5,"y2":30.5,"x":92145,"x2":92175,"v":1.8},{"y":29.5,"y2":30.5,"x":92235,"x2":92325,"v":1.5},{"y":29.5,"y2":30.5,"x":92655,"x2":92685,"v":1.9},{"y":29.5,"y2":30.5,"x":92925,"x2":92955,"v":2.2},{"y":33.5,"y2":34.5,"x":91545,"x2":91605,"v":1.8},{"y":33.5,"y2":34.5,"x":91635,"x2":91725,"v":1.6},{"y":33.5,"y2":34.5,"x":91725,"x2":91755,"v":2.3},{"y":33.5,"y2":34.5,"x":91815,"x2":91845,"v":1.9},{"y":33.5,"y2":34.5,"x":91935,"x2":91965,"v":1.5},{"y":33.5,"y2":34.5,"x":92055,"x2":92085,"v":2.9},{"y":33.5,"y2":34.5,"x":92085,"x2":92115,"v":3.4},{"y":33.5,"y2":34.5,"x":92115,"x2":92145,"v":2.2},{"y":33.5,"y2":34.5,"x":92565,"x2":92625,"v":1.6},{"y":33.5,"y2":34.5,"x":92835,"x2":92865,"v":2},{"y":33.5,"y2":34.5,"x":92295,"x2":92355,"v":1.3},{"y":37.5,"y2":38.5,"x":91815,"x2":91875,"v":2},{"y":37.5,"y2":38.5,"x":91935,"x2":91995,"v":1.5},{"y":37.5,"y2":38.5,"x":92505,"x2":92625,"v":1.5},{"y":37.5,"y2":38.5,"x":92265,"x2":92375,"v":1.3},{"y":37.5,"y2":38.5,"x":92865,"x2":92925,"v":1.5},{"y":39.5,"y2":40.5,"x":91575,"x2":91605,"v":2.7},{"y":39.5,"y2":40.5,"x":91605,"x2":91635,"v":2},{"y":39.5,"y2":40.5,"x":91695,"x2":91755,"v":1.9},{"y":39.5,"y2":40.5,"x":91845,"x2":91905,"v":1.4},{"y":39.5,"y2":40.5,"x":91995,"x2":92055,"v":2.1},{"y":39.5,"y2":40.5,"x":92265,"x2":92355,"v":1.7},{"y":39.5,"y2":40.5,"x":92775,"x2":92925,"v":1.4},{"y":42.5,"y2":43.5,"x":91640,"x2":91695,"v":1.4},{"y":42.5,"y2":43.5,"x":92325,"x2":92445,"v":1.9},{"y":43.5,"y2":44.5,"x":91815,"x2":91845,"v":1.8},{"y":43.5,"y2":44.5,"x":92055,"x2":92115,"v":1.9},{"y":43.5,"y2":44.5,"x":92205,"x2":92265,"v":1.6},{"y":43.5,"y2":44.5,"x":92715,"x2":92835,"v":1.7},{"y":44.5,"y2":45.5,"x":91513,"x2":91575,"v":1.6},{"y":44.5,"y2":45.5,"x":92235,"x2":92295,"v":1.3},{"y":44.5,"y2":45.5,"x":92385,"x2":92445,"v":1.4},{"y":47.5,"y2":48.5,"x":91785,"x2":91815,"v":1.8},{"y":47.5,"y2":48.5,"x":91935,"x2":91995,"v":2.1},{"y":47.5,"y2":48.5,"x":92175,"x2":92265,"v":1.6},{"y":47.5,"y2":48.5,"x":92715,"x2":92805,"v":1.5},{"y":47.5,"y2":48.5,"x":92865,"x2":92925,"v":1.7},{"y":50.5,"y2":51.5,"x":92445,"x2":92535,"v":1.9},{"y":50.5,"y2":51.5,"x":92235,"x2":92295,"v":1.2},{"y":53.5,"y2":54.5,"x":91488,"x2":91575,"v":1.5},{"y":53.5,"y2":54.5,"x":91635,"x2":91695,"v":1.3},{"y":60.5,"y2":61.5,"x":91513,"x2":91575,"v":1.3},{"y":60.5,"y2":61.5,"x":91935,"x2":92025,"v":1.9},{"y":60.5,"y2":61.5,"x":92145,"x2":92205,"v":2},{"y":60.5,"y2":61.5,"x":92265,"x2":92325,"v":1.5},{"y":60.5,"y2":61.5,"x":92385,"x2":92505,"v":1.8},{"y":60.5,"y2":61.5,"x":92625,"x2":92685,"v":1.7},{"y":59.5,"y2":60.5,"x":91605,"x2":91635,"v":1.7},{"y":59.5,"y2":60.5,"x":91695,"x2":91725,"v":2},{"y":61.5,"y2":62.5,"x":91488,"x2":91545,"v":1.6},{"y":61.5,"y2":62.5,"x":91965,"x2":92025,"v":2.2},{"y":61.5,"y2":62.5,"x":91755,"x2":91815,"v":1.3},
{"y":3.5,"y2":4.5,"x":93675,"x2":93730,"v":2},{"y":4.5,"y2":5.5,"x":93066,"x2":93111,"v":1.9},{"y":4.5,"y2":5.5,"x":93140,"x2":93185,"v":1.6},{"y":4.5,"y2":5.5,"x":93655,"x2":93705,"v":1.4},{"y":2.5,"y2":3.5,"x":94170,"x2":94225,"v":1.9},{"y":2.5,"y2":3.5,"x":93915,"x2":93945,"v":1.4},{"y":2.5,"y2":3.5,"x":94045,"x2":94135,"v":1.4},{"y":7.5,"y2":8.5,"x":93455,"x2":93485,"v":2.1},{"y":8.5,"y2":9.5,"x":94075,"x2":94170,"v":1.4},{"y":8.5,"y2":9.5,"x":93875,"x2":93945,"v":1.5},{"y":11.5,"y2":12.5,"x":93312,"x2":93358,"v":1.9},{"y":11.5,"y2":12.5,"x":93585,"x2":93655,"v":1.6},{"y":11.5,"y2":12.5,"x":93995,"x2":94020,"v":1.9},{"y":12.5,"y2":13.5,"x":93115,"x2":93140,"v":1.9},{"y":12.5,"y2":13.5,"x":93654,"x2":93705,"v":1.9},{"y":12.5,"y2":13.5,"x":94170,"x2":94220,"v":1.8},{"y":14.5,"y2":15.5,"x":93160,"x2":93185,"v":1.5},{"y":14.5,"y2":15.5,"x":93365,"x2":93410,"v":1.5},{"y":14.5,"y2":15.5,"x":94025,"x2":94070,"v":1.5},{"y":16.5,"y2":17.5,"x":93805,"x2":93850,"v":2.3},{"y":16.5,"y2":17.5,"x":93895,"x2":93945,"v":2.2},{"y":16.5,"y2":17.5,"x":93995,"x2":94045,"v":2},{"y":16.5,"y2":17.5,"x":93026,"x2":93061,"v":2},{"y":16.5,"y2":17.5,"x":93413,"x2":93453,"v":1.4},{"y":17.5,"y2":18.5,"x":93458,"x2":93508,"v":2.6},{"y":17.5,"y2":18.5,"x":93312,"x2":93332,"v":2},{"y":18.5,"y2":19.5,"x":93855,"x2":93895,"v":2.6},{"y":18.5,"y2":19.5,"x":93585,"x2":93630,"v":1.9},{"y":18.5,"y2":19.5,"x":93785,"x2":93825,"v":1.6},{"y":27.5,"y2":28.5,"x":93140,"x2":93160,"v":1.8},{"y":27.5,"y2":28.5,"x":94120,"x2":94145,"v":2},{"y":29.5,"y2":30.5,"x":93388,"x2":93408,"v":1.9},{"y":29.5,"y2":30.5,"x":93458,"x2":93508,"v":2.1},{"y":29.5,"y2":30.5,"x":93535,"x2":93580,"v":1.7},{"y":29.5,"y2":30.5,"x":93850,"x2":93895,"v":2.1},{"y":33.5,"y2":34.5,"x":93025,"x2":93065,"v":2.2},{"y":33.5,"y2":34.5,"x":93510,"x2":93655,"v":2},{"y":33.5,"y2":34.5,"x":93705,"x2":93730,"v":1.7},{"y":33.5,"y2":34.5,"x":94195,"x2":94240,"v":1.9},{"y":33.5,"y2":34.5,"x":93333,"x2":93383,"v":1.4},{"y":35.5,"y2":36.5,"x":93630,"x2":93655,"v":1.6},{"y":35.5,"y2":36.5,"x":93705,"x2":93755,"v":1.7},{"y":37.5,"y2":38.5,"x":93212,"x2":93237,"v":2},{"y":37.5,"y2":38.5,"x":94075,"x2":94120,"v":2.1},{"y":37.5,"y2":38.5,"x":93835,"x2":93850,"v":1.7},{"y":39.5,"y2":40.5,"x":93920,"x2":93945,"v":2.1},{"y":39.5,"y2":40.5,"x":93995,"x2":94020,"v":2},{"y":42.5,"y2":43.5,"x":93995,"x2":94045,"v":2.1},{"y":42.5,"y2":43.5,"x":93115,"x2":93185,"v":1.4},{"y":42.5,"y2":43.5,"x":93830,"x2":93850,"v":1.9},{"y":43.5,"y2":44.5,"x":93212,"x2":93262,"v":2.3},{"y":44.5,"y2":45.5,"x":93262,"x2":93312,"v":1.8},{"y":44.5,"y2":45.5,"x":93333,"x2":93383,"v":1.6},{"y":44.5,"y2":45.5,"x":93895,"x2":93920,"v":2},{"y":47.5,"y2":48.5,"x":93565,"x2":93675,"v":1.4},{"y":47.5,"y2":48.5,"x":93895,"x2":93945,"v":1.7},{"y":50.5,"y2":51.5,"x":93635,"x2":93680,"v":1.4},{"y":53.5,"y2":54.5,"x":93485,"x2":93535,"v":1.7},{"y":53.5,"y2":54.5,"x":93755,"x2":93780,"v":1.8},{"y":60.5,"y2":61.5,"x":93333,"x2":93383,"v":2.4},{"y":60.5,"y2":61.5,"x":93383,"x2":93485,"v":2},{"y":60.5,"y2":61.5,"x":93780,"x2":93825,"v":2.3},{"y":60.5,"y2":61.5,"x":93850,"x2":93945,"v":2},{"y":60.5,"y2":61.5,"x":94095,"x2":94120,"v":2.6},{"y":60.5,"y2":61.5,"x":94120,"x2":94165,"v":2.9},{"y":60.5,"y2":61.5,"x":94165,"x2":94195,"v":2.2},{"y":60.5,"y2":61.5,"x":93066,"x2":93116,"v":1.8},{"y":60.5,"y2":61.5,"x":93212,"x2":93262,"v":1.9},{"y":60.5,"y2":61.5,"x":94045,"x2":94095,"v":1.5},{"y":61.5,"y2":62.5,"x":93160,"x2":93212,"v":1.9},{"y":61.5,"y2":62.5,"x":93585,"x2":93630,"v":1.9},{"y":61.5,"y2":62.5,"x":94145,"x2":94240,"v":1.9},
{"y":69.5,"y2":70.5,"x":91803,"x2":91843,"v":1.7},{"y":69.5,"y2":70.5,"x":92813,"x2":92863,"v":2},{"y":69.5,"y2":70.5,"x":92903,"x2":92933,"v":1.9},{"y":69.5,"y2":70.5,"x":92993,"x2":93025,"v":2.4},{"y":71.5,"y2":72.5,"x":91843,"x2":91873,"v":2.8},{"y":71.5,"y2":72.5,"x":91913,"x2":91963,"v":2},{"y":71.5,"y2":72.5,"x":92333,"x2":92413,"v":2.3},{"y":71.5,"y2":72.5,"x":92533,"x2":92593,"v":2.3},{"y":71.5,"y2":72.5,"x":92953,"x2":92993,"v":3.8},{"y":71.5,"y2":72.5,"x":92993,"x2":93025,"v":3.3},{"y":71.5,"y2":72.5,"x":93113,"x2":93313,"v":1.7},{"y":71.5,"y2":72.5,"x":93553,"x2":93583,"v":2},{"y":71.5,"y2":72.5,"x":93713,"x2":93733,"v":2},{"y":71.5,"y2":72.5,"x":93933,"x2":94053,"v":1.6},{"y":71.5,"y2":72.5,"x":94283,"x2":94373,"v":2},{"y":71.5,"y2":72.5,"x":94493,"x2":94515,"v":2},{"y":72.5,"y2":73.5,"x":92453,"x2":92503,"v":1.9},{"y":72.5,"y2":73.5,"x":92153,"x2":92263,"v":1.5},{"y":73.5,"y2":74.5,"x":91553,"x2":91603,"v":2},{"y":73.5,"y2":74.5,"x":94343,"x2":94373,"v":1.9},{"y":73.5,"y2":74.5,"x":93263,"x2":93373,"v":1.5},{"y":76.5,"y2":77.5,"x":91923,"x2":91963,"v":1.9},{"y":76.5,"y2":77.5,"x":92023,"x2":92053,"v":1.8},{"y":76.5,"y2":77.5,"x":92963,"x2":93013,"v":3.2},{"y":76.5,"y2":77.5,"x":93623,"x2":93673,"v":1.8},{"y":76.5,"y2":77.5,"x":94043,"x2":94153,"v":1.6},{"y":76.5,"y2":77.5,"x":92493,"x2":92533,"v":1.3},{"y":78.5,"y2":79.5,"x":91493,"x2":91513,"v":1.8},{"y":78.5,"y2":79.5,"x":91663,"x2":91693,"v":1.7},{"y":78.5,"y2":79.5,"x":91963,"x2":91993,"v":2},{"y":78.5,"y2":79.5,"x":92393,"x2":92443,"v":1.5},{"y":78.5,"y2":79.5,"x":93283,"x2":93343,"v":1.5},{"y":78.5,"y2":79.5,"x":93593,"x2":93643,"v":1.5},{"y":79.5,"y2":80.5,"x":92663,"x2":92683,"v":2.5},{"y":79.5,"y2":80.5,"x":92803,"x2":92833,"v":2.7},{"y":79.5,"y2":80.5,"x":93563,"x2":93603,"v":1.9},{"y":79.5,"y2":80.5,"x":93733,"x2":93793,"v":1.9},{"y":79.5,"y2":80.5,"x":94113,"x2":94153,"v":1.6},{"y":81.5,"y2":82.5,"x":92733,"x2":92773,"v":1.8},{"y":81.5,"y2":82.5,"x":93263,"x2":93313,"v":1.9},{"y":81.5,"y2":82.5,"x":93413,"x2":93463,"v":1.9},{"y":81.5,"y2":82.5,"x":93953,"x2":93973,"v":1.9},{"y":81.5,"y2":82.5,"x":94093,"x2":94123,"v":1.8},{"y":84.5,"y2":85.5,"x":91493,"x2":91593,"v":1.4},{"y":84.5,"y2":85.5,"x":92033,"x2":92053,"v":1.7},{"y":84.5,"y2":85.5,"x":93693,"x2":93753,"v":2.1},{"y":84.5,"y2":85.5,"x":94463,"x2":94513,"v":2},{"y":84.5,"y2":85.5,"x":92963,"x2":93025,"v":2.7},{"y":87.5,"y2":88.5,"x":91883,"x2":91933,"v":1.5},{"y":87.5,"y2":88.5,"x":92173,"x2":92353,"v":1.6},{"y":87.5,"y2":88.5,"x":92933,"x2":92963,"v":2},{"y":87.5,"y2":88.5,"x":92963,"x2":92993,"v":3.1},{"y":89.5,"y2":90.5,"x":92333,"x2":92433,"v":1.3},{"y":89.5,"y2":90.5,"x":92953,"x2":93013,"v":2.7},{"y":90.5,"y2":91.5,"x":91793,"x2":91843,"v":1.4},{"y":90.5,"y2":91.5,"x":92783,"x2":92803,"v":2},{"y":90.5,"y2":91.5,"x":92143,"x2":92193,"v":1.4},{"y":90.5,"y2":91.5,"x":92973,"x2":93013,"v":2.5},{"y":90.5,"y2":91.5,"x":93313,"x2":93433,"v":1.3},{"y":93.5,"y2":94.5,"x":92333,"x2":92353,"v":1.9},{"y":93.5,"y2":94.5,"x":94043,"x2":94093,"v":1.4},{"y":96.5,"y2":97.5,"x":91513,"x2":91543,"v":1.5},{"y":96.5,"y2":97.5,"x":92473,"x2":92503,"v":1.4},{"y":96.5,"y2":97.5,"x":92963,"x2":92983,"v":3},{"y":96.5,"y2":97.5,"x":93493,"x2":93533,"v":2},{"y":96.5,"y2":97.5,"x":94283,"x2":94363,"v":1.7},{"y":97.5,"y2":98.5,"x":92193,"x2":92223,"v":1.6},{"y":97.5,"y2":98.5,"x":93053,"x2":93193,"v":1.5},{"y":98.5,"y2":99.5,"x":91513,"x2":91573,"v":1.7},{"y":98.5,"y2":99.5,"x":92053,"x2":92113,"v":1.9},{"y":98.5,"y2":99.5,"x":92453,"x2":92503,"v":1.8},{"y":98.5,"y2":99.5,"x":92963,"x2":93013,"v":2.6},{"y":98.5,"y2":99.5,"x":93053,"x2":93073,"v":2.3},{"y":105.5,"y2":106.5,"x":92963,"x2":92983,"v":2.5},{"y":107.5,"y2":108.5,"x":91643,"x2":91693,"v":1.5},{"y":107.5,"y2":108.5,"x":92293,"x2":92323,"v":1.9},{"y":107.5,"y2":108.5,"x":93283,"x2":93343,"v":1.9},{"y":108.5,"y2":109.5,"x":91485,"x2":91513,"v":2.7},{"y":108.5,"y2":109.5,"x":91613,"x2":91723,"v":2.6},{"y":108.5,"y2":109.5,"x":92693,"x2":92713,"v":2.9},{"y":108.5,"y2":109.5,"x":92533,"x2":92563,"v":1.9},{"y":108.5,"y2":109.5,"x":93293,"x2":93553,"v":1.9},{"y":108.5,"y2":109.5,"x":93663,"x2":93683,"v":2.3},{"y":108.5,"y2":109.5,"x":94323,"x2":94373,"v":2.5},{"y":108.5,"y2":109.5,"x":94043,"x2":94093,"v":1.9},{"y":111.5,"y2":112.5,"x":92693,"x2":92743,"v":2},{"y":111.5,"y2":112.5,"x":92573,"x2":92593,"v":2},{"y":111.5,"y2":112.5,"x":93133,"x2":93253,"v":1.9},{"y":111.5,"y2":112.5,"x":93533,"x2":93673,"v":2},{"y":111.5,"y2":112.5,"x":94293,"x2":94313,"v":2.1},{"y":111.5,"y2":112.5,"x":94433,"x2":94483,"v":1.9},{"y":111.5,"y2":112.5,"x":92963,"x2":93013,"v":2.4},{"y":119.5,"y2":120.5,"x":91733,"x2":91783,"v":1.6},{"y":119.5,"y2":120.5,"x":91853,"x2":91873,"v":1.9},{"y":119.5,"y2":120.5,"x":92033,"x2":92053,"v":1.9},{"y":119.5,"y2":120.5,"x":92633,"x2":92683,"v":2},{"y":119.5,"y2":120.5,"x":93393,"x2":93433,"v":1.9},{"y":119.5,"y2":120.5,"x":93533,"x2":93583,"v":2.1},{"y":119.5,"y2":120.5,"x":92963,"x2":93013,"v":2},{"y":119.5,"y2":120.5,"x":94493,"x2":94515,"v":2.7},{"y":120.5,"y2":121.5,"x":91673,"x2":91723,"v":1.6},{"y":120.5,"y2":121.5,"x":91823,"x2":91873,"v":1.5},{"y":120.5,"y2":121.5,"x":92953,"x2":92983,"v":2.9},{"y":120.5,"y2":121.5,"x":93113,"x2":93163,"v":1.8},{"y":120.5,"y2":121.5,"x":93923,"x2":93973,"v":1.9},{"y":122.5,"y2":123.5,"x":92953,"x2":92983,"v":2.1},{"y":126.5,"y2":127.5,"x":91993,"x2":92023,"v":2.5},{"y":126.5,"y2":127.5,"x":92423,"x2":92653,"v":1.8},{"y":126.5,"y2":127.5,"x":92963,"x2":93013,"v":2.6},{"y":126.5,"y2":127.5,"x":93623,"x2":93653,"v":2.6},{"y":127.5,"y2":128.5,"x":92353,"x2":92413,"v":2}],
"cb":[{"y":0.5,"y2":1.5,"v":0.42},{"y":1.5,"y2":2.5,"v":0.3},{"y":2.5,"y2":3.5,"v":0.7},{"y":3.5,"y2":4.5,"v":0.6},{"y":4.5,"y2":5.5,"v":0.55},{"y":5.5,"y2":6.5,"v":0.18},{"y":6.5,"y2":7.5,"v":0.5},{"y":7.5,"y2":8.5,"v":0.38},{"y":8.5,"y2":9.5,"v":0.65},{"y":9.5,"y2":10.5,"v":0.42},{"y":10.5,"y2":11.5,"v":0.15},{"y":11.5,"y2":12.5,"v":0.65},{"y":12.5,"y2":13.5,"v":0.7},{"y":13.5,"y2":14.5,"v":0.3},{"y":14.5,"y2":15.5,"v":0.7},{"y":15.5,"y2":16.5,"v":0.75},{"y":16.5,"y2":17.5,"v":0.75},{"y":17.5,"y2":18.5,"v":0.8},{"y":18.5,"y2":19.5,"v":0.65},{"y":19.5,"y2":20.5,"v":0.26},{"y":20.5,"y2":21.5,"v":0.38},{"y":21.5,"y2":22.5,"v":0.22},{"y":22.5,"y2":23.5,"v":0.5},{"y":23.5,"y2":24.5,"v":0.3},{"y":24.5,"y2":25.5,"v":0.42},{"y":25.5,"y2":26.5,"v":0.22},{"y":26.5,"y2":27.5,"v":0.12},{"y":27.5,"y2":28.5,"v":0.85},{"y":28.5,"y2":29.5,"v":0.26},{"y":29.5,"y2":30.5,"v":0.8},{"y":30.5,"y2":31.5,"v":0.26},{"y":31.5,"y2":32.5,"v":0.22},{"y":32.5,"y2":33.5,"v":0.18},{"y":33.5,"y2":34.5,"v":0.85},{"y":34.5,"y2":35.5,"v":0.26},{"y":35.5,"y2":36.5,"v":0.8},{"y":36.5,"y2":37.5,"v":0.6},{"y":37.5,"y2":38.5,"v":0.7},{"y":38.5,"y2":39.5,"v":0.34},{"y":39.5,"y2":40.5,"v":0.8},{"y":40.5,"y2":41.5,"v":0.12},{"y":41.5,"y2":42.5,"v":0.26},{"y":42.5,"y2":43.5,"v":0.75},{"y":43.5,"y2":44.5,"v":0.55},{"y":44.5,"y2":45.5,"v":0.65},{"y":45.5,"y2":46.5,"v":0.26},{"y":46.5,"y2":47.5,"v":0.3},{"y":47.5,"y2":48.5,"v":0.6},{"y":48.5,"y2":49.5,"v":0.3},{"y":49.5,"y2":50.5,"v":0.26},{"y":50.5,"y2":51.5,"v":0.6},{"y":51.5,"y2":52.5,"v":0.12},{"y":52.5,"y2":53.5,"v":0.15},{"y":53.5,"y2":54.5,"v":0.3},{"y":54.5,"y2":55.5,"v":0.38},{"y":55.5,"y2":56.5,"v":0.3},{"y":56.5,"y2":57.5,"v":0.46},{"y":57.5,"y2":58.5,"v":0.26},{"y":58.5,"y2":59.5,"v":0.26},{"y":59.5,"y2":60.5,"v":0.42},{"y":60.5,"y2":61.5,"v":0.7},{"y":61.5,"y2":62.5,"v":0.7},{"y":62.5,"y2":63.5,"v":0.18},{"y":63.5,"y2":64.5,"v":0.46},{"y":64.5,"y2":65.5,"v":0.34},{"y":65.5,"y2":66.5,"v":0.3},{"y":66.5,"y2":67.5,"v":0.3},{"y":67.5,"y2":68.5,"v":0.18},{"y":68.5,"y2":69.5,"v":0.5},{"y":69.5,"y2":70.5,"v":0.55},{"y":70.5,"y2":71.5,"v":0.34},{"y":71.5,"y2":72.5,"v":1},{"y":72.5,"y2":73.5,"v":0.5},{"y":73.5,"y2":74.5,"v":0.6},{"y":74.5,"y2":75.5,"v":0.3},{"y":75.5,"y2":76.5,"v":0.38},{"y":76.5,"y2":77.5,"v":0.75},{"y":77.5,"y2":78.5,"v":0.1},{"y":78.5,"y2":79.5,"v":0.42},{"y":79.5,"y2":80.5,"v":0.65},{"y":80.5,"y2":81.5,"v":0.5},{"y":81.5,"y2":82.5,"v":0.65},{"y":82.5,"y2":83.5,"v":0.22},{"y":83.5,"y2":84.5,"v":0.55},{"y":84.5,"y2":85.5,"v":0.7},{"y":85.5,"y2":86.5,"v":0.18},{"y":86.5,"y2":87.5,"v":0.34},{"y":87.5,"y2":88.5,"v":0.46},{"y":88.5,"y2":89.5,"v":0.18},{"y":89.5,"y2":90.5,"v":0.38},{"y":90.5,"y2":91.5,"v":0.46},{"y":91.5,"y2":92.5,"v":0.18},{"y":92.5,"y2":93.5,"v":0.18},{"y":93.5,"y2":94.5,"v":0.46},{"y":94.5,"y2":95.5,"v":0.5},{"y":95.5,"y2":96.5,"v":0.1},{"y":96.5,"y2":97.5,"v":0.34},{"y":97.5,"y2":98.5,"v":0.42},{"y":98.5,"y2":99.5,"v":0.6},{"y":99.5,"y2":100.5,"v":0.26},{"y":100.5,"y2":101.5,"v":0.26},{"y":101.5,"y2":102.5,"v":0.46},{"y":102.5,"y2":103.5,"v":0.15},{"y":103.5,"y2":104.5,"v":0.22},{"y":104.5,"y2":105.5,"v":0.22},{"y":105.5,"y2":106.5,"v":0.42},{"y":106.5,"y2":107.5,"v":0.18},{"y":107.5,"y2":108.5,"v":0.38},{"y":108.5,"y2":109.5,"v":0.8},{"y":109.5,"y2":110.5,"v":0.5},{"y":110.5,"y2":111.5,"v":0.5},{"y":111.5,"y2":112.5,"v":0.75},{"y":112.5,"y2":113.5,"v":0.18},{"y":113.5,"y2":114.5,"v":0.12},{"y":114.5,"y2":115.5,"v":0.26},{"y":115.5,"y2":116.5,"v":0.26},{"y":116.5,"y2":117.5,"v":0.15},{"y":117.5,"y2":118.5,"v":0.34},{"y":118.5,"y2":119.5,"v":0.26},{"y":119.5,"y2":120.5,"v":0.65},{"y":120.5,"y2":121.5,"v":0.5},{"y":121.5,"y2":122.5,"v":0.08},{"y":122.5,"y2":123.5,"v":0.46},{"y":123.5,"y2":124.5,"v":0.15},{"y":124.5,"y2":125.5,"v":0.42},{"y":125.5,"y2":126.5,"v":0.38},{"y":126.5,"y2":127.5,"v":0.7},{"y":127.5,"y2":128.5,"v":0.42}],
"cs":[{"y":2.5,"y2":3.5,"x":126750,"x2":126830,"v":1.2},{"y":2.5,"y2":3.5,"x":127020,"x2":127100,"v":1.1},{"y":2.5,"y2":3.5,"x":127320,"x2":127380,"v":1.9},{"y":2.5,"y2":3.5,"x":127430,"x2":127480,"v":1.7},{"y":4.5,"y2":5.5,"x":126900,"x2":126950,"v":1.6},{"y":8.5,"y2":9.5,"x":127200,"x2":127230,"v":1.9},{"y":8.5,"y2":9.5,"x":127295,"x2":127325,"v":1.8},{"y":8.5,"y2":9.5,"x":127380,"x2":127430,"v":1.7},{"y":8.5,"y2":9.5,"x":127545,"x2":127575,"v":1.6},{"y":8.5,"y2":9.5,"x":127700,"x2":127720,"v":2.2},{"y":8.5,"y2":9.5,"x":127850,"x2":127900,"v":1.9},{"y":11.5,"y2":12.5,"x":127130,"x2":127180,"v":1.7},{"y":12.5,"y2":13.5,"x":126870,"x2":126920,"v":1.8},{"y":12.5,"y2":13.5,"x":127080,"x2":127130,"v":1.3},{"y":12.5,"y2":13.5,"x":127350,"x2":127390,"v":1.4},{"y":14.5,"y2":15.5,"x":126580,"x2":126600,"v":1.7},{"y":14.5,"y2":15.5,"x":126910,"x2":126950,"v":1.4},{"y":14.5,"y2":15.5,"x":127310,"x2":127360,"v":1.5},{"y":15.5,"y2":16.5,"x":126630,"x2":126660,"v":1.8},{"y":15.5,"y2":16.5,"x":127940,"x2":127960,"v":2},{"y":16.5,"y2":17.5,"x":126570,"x2":126620,"v":1.3},{"y":16.5,"y2":17.5,"x":127340,"x2":127400,"v":1.9},{"y":16.5,"y2":17.5,"x":127820,"x2":127840,"v":1.8},{"y":17.5,"y2":18.5,"x":126900,"x2":126925,"v":1.9},{"y":17.5,"y2":18.5,"x":127130,"x2":127190,"v":1.7},{"y":18.5,"y2":19.5,"x":127160,"x2":127280,"v":1.3},{"y":18.5,"y2":19.5,"x":127550,"x2":127600,"v":1.3},{"y":27.5,"y2":28.5,"x":127020,"x2":127190,"v":1.2},{"y":27.5,"y2":28.5,"x":127460,"x2":127515,"v":1.9},{"y":27.5,"y2":28.5,"x":127545,"x2":127605,"v":1.9},{"y":29.5,"y2":30.5,"x":126490,"x2":126540,"v":2},{"y":29.5,"y2":30.5,"x":126750,"x2":126810,"v":1.9},{"y":29.5,"y2":30.5,"x":127020,"x2":127070,"v":1.3},{"y":29.5,"y2":30.5,"x":127310,"x2":127360,"v":1.3},{"y":29.5,"y2":30.5,"x":127810,"x2":127840,"v":2.1},{"y":33.5,"y2":34.5,"x":127165,"x2":127190,"v":2.2},{"y":33.5,"y2":34.5,"x":127310,"x2":127340,"v":1.9},{"y":33.5,"y2":34.5,"x":127515,"x2":127545,"v":2.3},{"y":33.5,"y2":34.5,"x":127130,"x2":127165,"v":1.6},{"y":35.5,"y2":36.5,"x":126750,"x2":126780,"v":2.1},{"y":35.5,"y2":36.5,"x":127340,"x2":127370,"v":1.9},{"y":36.5,"y2":37.5,"x":127105,"x2":127160,"v":1.2},{"y":39.5,"y2":40.5,"x":127515,"x2":127870,"v":1.1},{"y":39.5,"y2":40.5,"x":127165,"x2":127190,"v":2.6},{"y":39.5,"y2":40.5,"x":127195,"x2":127220,"v":1.9},{"y":39.5,"y2":40.5,"x":127900,"x2":127960,"v":1.9},{"y":42.5,"y2":43.5,"x":126660,"x2":126690,"v":1.7},{"y":42.5,"y2":43.5,"x":126690,"x2":126720,"v":2.2},{"y":42.5,"y2":43.5,"x":126925,"x2":126955,"v":2},{"y":42.5,"y2":43.5,"x":126840,"x2":126920,"v":1.4},{"y":42.5,"y2":43.5,"x":127785,"x2":127840,"v":1.8},{"y":43.5,"y2":44.5,"x":127875,"x2":127900,"v":1.6},{"y":44.5,"y2":45.5,"x":127195,"x2":127250,"v":1.2},{"y":44.5,"y2":45.5,"x":127490,"x2":127515,"v":1.9},{"y":60.5,"y2":61.5,"x":126690,"x2":126720,"v":1.9},{"y":60.5,"y2":61.5,"x":126720,"x2":126750,"v":2.3},{"y":60.5,"y2":61.5,"x":126780,"x2":126810,"v":2.7},{"y":60.5,"y2":61.5,"x":126810,"x2":126835,"v":1.9},{"y":60.5,"y2":61.5,"x":126925,"x2":126985,"v":2.8},{"y":60.5,"y2":61.5,"x":127490,"x2":127545,"v":2.1},{"y":60.5,"y2":61.5,"x":127110,"x2":127130,"v":1.8},{"y":61.5,"y2":62.5,"x":126515,"x2":126540,"v":2.2},{"y":61.5,"y2":62.5,"x":126540,"x2":126630,"v":1.6},{"y":61.5,"y2":62.5,"x":126925,"x2":126955,"v":1.8},{"y":61.5,"y2":62.5,"x":127605,"x2":127665,"v":1.9},{"y":59.5,"y2":60.5,"x":126600,"x2":126630,"v":1.8},
{"y":2.5,"y2":3.5,"x":129090,"x2":129160,"v":2},{"y":2.5,"y2":3.5,"x":129310,"x2":129345,"v":1.9},{"y":8.5,"y2":9.5,"x":128680,"x2":128735,"v":2.1},{"y":8.5,"y2":9.5,"x":128860,"x2":128920,"v":1.8},{"y":8.5,"y2":9.5,"x":128017,"x2":128067,"v":1.5},{"y":9.5,"y2":10.5,"x":128475,"x2":128680,"v":1},{"y":12.5,"y2":13.5,"x":128080,"x2":128135,"v":1.6},{"y":12.5,"y2":13.5,"x":128230,"x2":128280,"v":1.5},{"y":12.5,"y2":13.5,"x":128355,"x2":128405,"v":1.4},{"y":12.5,"y2":13.5,"x":128985,"x2":129010,"v":1.6},{"y":14.5,"y2":15.5,"x":128470,"x2":128530,"v":1.9},{"y":14.5,"y2":15.5,"x":128875,"x2":128920,"v":1.7},{"y":14.5,"y2":15.5,"x":129405,"x2":129430,"v":1.8},{"y":16.5,"y2":17.5,"x":128170,"x2":128225,"v":2.1},{"y":16.5,"y2":17.5,"x":128007,"x2":128047,"v":2},{"y":16.5,"y2":17.5,"x":128650,"x2":128680,"v":1.9},{"y":16.5,"y2":17.5,"x":128980,"x2":129010,"v":1.9},{"y":16.5,"y2":17.5,"x":129135,"x2":129190,"v":2.2},{"y":16.5,"y2":17.5,"x":129250,"x2":129280,"v":2.3},{"y":17.5,"y2":18.5,"x":128200,"x2":128225,"v":1.9},{"y":17.5,"y2":18.5,"x":128560,"x2":128620,"v":2.2},{"y":17.5,"y2":18.5,"x":128865,"x2":128920,"v":2.2},{"y":17.5,"y2":18.5,"x":129400,"x2":129430,"v":1.9},{"y":18.5,"y2":19.5,"x":128047,"x2":128077,"v":1.9},{"y":18.5,"y2":19.5,"x":128320,"x2":128435,"v":1.4},{"y":18.5,"y2":19.5,"x":129220,"x2":129250,"v":2.2},{"y":27.5,"y2":28.5,"x":128007,"x2":128047,"v":2.2},{"y":27.5,"y2":28.5,"x":128590,"x2":128620,"v":1.7},{"y":29.5,"y2":30.5,"x":128410,"x2":128470,"v":2.7},{"y":29.5,"y2":30.5,"x":129070,"x2":129130,"v":1.7},{"y":33.5,"y2":34.5,"x":128200,"x2":128225,"v":1.9},{"y":33.5,"y2":34.5,"x":128287,"x2":128317,"v":1.9},{"y":33.5,"y2":34.5,"x":128650,"x2":128705,"v":2},{"y":33.5,"y2":34.5,"x":128925,"x2":129035,"v":1.5},{"y":33.5,"y2":34.5,"x":128505,"x2":128590,"v":1.5},{"y":35.5,"y2":36.5,"x":129280,"x2":129370,"v":1.7},{"y":37.5,"y2":38.5,"x":128975,"x2":129100,"v":1.4},{"y":39.5,"y2":40.5,"x":128017,"x2":128047,"v":2.3},{"y":39.5,"y2":40.5,"x":128257,"x2":128312,"v":1.7},{"y":42.5,"y2":43.5,"x":128017,"x2":128047,"v":2},{"y":42.5,"y2":43.5,"x":128710,"x2":128765,"v":1.5},{"y":43.5,"y2":44.5,"x":128385,"x2":128435,"v":1.5},{"y":43.5,"y2":44.5,"x":128735,"x2":128765,"v":1.9},{"y":44.5,"y2":45.5,"x":129250,"x2":129310,"v":1.5},{"y":44.5,"y2":45.5,"x":129400,"x2":129430,"v":2.1},{"y":50.5,"y2":51.5,"x":128290,"x2":128350,"v":1.7},{"y":50.5,"y2":51.5,"x":129070,"x2":129130,"v":1.5},{"y":50.5,"y2":51.5,"x":129280,"x2":129340,"v":1.8},{"y":60.5,"y2":61.5,"x":128047,"x2":128107,"v":1.5},{"y":60.5,"y2":61.5,"x":128350,"x2":128380,"v":1.8},{"y":60.5,"y2":61.5,"x":128920,"x2":128950,"v":2.2},{"y":59.5,"y2":60.5,"x":128680,"x2":128710,"v":2},{"y":61.5,"y2":62.5,"x":128135,"x2":128170,"v":2},
{"y":71.5,"y2":72.5,"x":126515,"x2":126635,"v":1.9},{"y":71.5,"y2":72.5,"x":127120,"x2":127150,"v":2.4},{"y":71.5,"y2":72.5,"x":127420,"x2":127460,"v":3.4},{"y":71.5,"y2":72.5,"x":127745,"x2":127785,"v":3.4},{"y":71.5,"y2":72.5,"x":128480,"x2":128550,"v":2.5},{"y":71.5,"y2":72.5,"x":129480,"x2":129515,"v":3.9},{"y":71.5,"y2":72.5,"x":126760,"x2":126820,"v":1.8},{"y":71.5,"y2":72.5,"x":127270,"x2":127330,"v":1.9},{"y":71.5,"y2":72.5,"x":127460,"x2":127490,"v":2.1},{"y":71.5,"y2":72.5,"x":127665,"x2":127740,"v":1.6},{"y":71.5,"y2":72.5,"x":128010,"x2":128070,"v":1.7},{"y":71.5,"y2":72.5,"x":128160,"x2":128280,"v":1.6},{"y":71.5,"y2":72.5,"x":128780,"x2":128840,"v":1.8},{"y":71.5,"y2":72.5,"x":129000,"x2":129060,"v":1.8},{"y":76.5,"y2":77.5,"x":127825,"x2":127875,"v":2.4},{"y":76.5,"y2":77.5,"x":128350,"x2":128400,"v":2.1},{"y":76.5,"y2":77.5,"x":129400,"x2":129430,"v":2.9},{"y":76.5,"y2":77.5,"x":127280,"x2":127520,"v":1.4},{"y":79.5,"y2":80.5,"x":127970,"x2":128020,"v":2.2},{"y":79.5,"y2":80.5,"x":129400,"x2":129440,"v":2.3},{"y":81.5,"y2":82.5,"x":127280,"x2":127330,"v":2.1},{"y":81.5,"y2":82.5,"x":128280,"x2":128330,"v":2},{"y":84.5,"y2":85.5,"x":128710,"x2":128730,"v":2.2},{"y":84.5,"y2":85.5,"x":126790,"x2":126900,"v":1.4},{"y":83.5,"y2":84.5,"x":127210,"x2":127270,"v":2},{"y":108.5,"y2":109.5,"x":126940,"x2":127000,"v":2.5},{"y":108.5,"y2":109.5,"x":127460,"x2":127520,"v":1.9},{"y":108.5,"y2":109.5,"x":127790,"x2":127840,"v":2.4},{"y":108.5,"y2":109.5,"x":128250,"x2":128300,"v":2.1},{"y":108.5,"y2":109.5,"x":128430,"x2":128480,"v":2.2},{"y":108.5,"y2":109.5,"x":129300,"x2":129330,"v":1.9},{"y":110.5,"y2":111.5,"x":128090,"x2":128120,"v":2},{"y":110.5,"y2":111.5,"x":128180,"x2":128210,"v":2},{"y":111.5,"y2":112.5,"x":127150,"x2":127210,"v":2},{"y":111.5,"y2":112.5,"x":127280,"x2":127300,"v":2.1},{"y":111.5,"y2":112.5,"x":127440,"x2":127520,"v":1.9},{"y":111.5,"y2":112.5,"x":128350,"x2":128390,"v":1.9},{"y":111.5,"y2":112.5,"x":128710,"x2":128760,"v":2.1},{"y":111.5,"y2":112.5,"x":127900,"x2":127940,"v":1.8},{"y":119.5,"y2":120.5,"x":127430,"x2":127490,"v":1.7},{"y":119.5,"y2":120.5,"x":127850,"x2":127910,"v":1.9},{"y":119.5,"y2":120.5,"x":128070,"x2":128110,"v":1.8},{"y":122.5,"y2":123.5,"x":126590,"x2":126670,"v":1.6},{"y":122.5,"y2":123.5,"x":128000,"x2":128050,"v":2.2},{"y":122.5,"y2":123.5,"x":128490,"x2":128540,"v":1.9},{"y":126.5,"y2":127.5,"x":127400,"x2":127430,"v":2.8},{"y":126.5,"y2":127.5,"x":127540,"x2":127580,"v":2.8},{"y":126.5,"y2":127.5,"x":127900,"x2":127930,"v":2.1},{"y":126.5,"y2":127.5,"x":129180,"x2":129210,"v":2.7},{"y":126.5,"y2":127.5,"x":129480,"x2":129515,"v":2.6},{"y":126.5,"y2":127.5,"x":127120,"x2":127180,"v":1.9},{"y":126.5,"y2":127.5,"x":128770,"x2":128820,"v":1.9},{"y":127.5,"y2":128.5,"x":126790,"x2":126840,"v":1.5},{"y":69.5,"y2":70.5,"x":128700,"x2":128730,"v":1.9},{"y":73.5,"y2":74.5,"x":127540,"x2":127600,"v":1.9},{"y":98.5,"y2":99.5,"x":126760,"x2":126800,"v":1.6},{"y":98.5,"y2":99.5,"x":128970,"x2":129000,"v":2},{"y":98.5,"y2":99.5,"x":129040,"x2":129080,"v":2},{"y":98.5,"y2":99.5,"x":129120,"x2":129180,"v":1.9},{"y":94.5,"y2":95.5,"x":126900,"x2":126950,"v":1.7},{"y":93.5,"y2":94.5,"x":129000,"x2":129080,"v":1.3},{"y":89.5,"y2":90.5,"x":126700,"x2":126780,"v":1.3},{"y":89.5,"y2":90.5,"x":127450,"x2":127540,"v":1.2}]},
"spacing":125,"resolve":{"scale":{"color":"independent"}},"vconcat":[{"spacing":170,"resolve":{"scale":{"color":"independent"}},"hconcat":[{"width":1005,"height":880,"layer":[{"data":{"name":"ab"},"mark":"rect","encoding":{"y":{"field":"y","type":"quantitative","scale":{"domain":[0.5,128.5],"reverse":true,"nice":false,"zero":false},"axis":{"values":[20,40,60,80,100,120],"title":"Pulse number","titlePadding":12,"labelPadding":29}},"y2":{"field":"y2"},"color":{"field":"v","type":"quantitative","scale":{"domain":[0.04,9.71],"interpolate":"rgb","range":["#3e26a8","#4537dc","#4558f7","#2f78f7","#1f95e6","#0fabd0","#15b9b0","#45c680","#85cc52","#c4ba2c","#f5b83a","#fcd030","#f9fb15"]},"legend":{"orient":"none","legendX":1076,"legendY":0,"gradientLength":880,"gradientThickness":53,"title":null,"values":[1,2,3,4,5,6,7,8,9],"format":"~g","labelOverlap":false,"gradientStrokeColor":"#262626","gradientStrokeWidth":2,"labelOffset":16}}}},{"data":{"name":"as"},"mark":"rect","encoding":{"x":{"field":"x","type":"quantitative","scale":{"domain":[40485,43515],"nice":false,"zero":false},"axis":{"values":[40500,41000,41500,42000,42500,43000,43500],"labelExpr":"format(datum.value/10000,'~g')","title":"Range(m)","titlePadding":18,"labelPadding":37}},"x2":{"field":"x2"},"y":{"field":"y","type":"quantitative","axis":null},"y2":{"field":"y2"},"color":{"field":"v","type":"quantitative"}}},{"data":{"values":[{"x":40500,"y":1}]},"mark":{"type":"rule","opacity":0},"encoding":{"x":{"field":"x","type":"quantitative","axis":{"orient":"top","labels":false,"title":null,"values":[40500,41000,41500,42000,42500,43000,43500],"zindex":1}},"y":{"field":"y","type":"quantitative","axis":{"orient":"right","labels":false,"title":null,"values":[20,40,60,80,100,120],"zindex":1}}}},{"mark":{"type":"text","text":"×10","fontSize":50,"align":"right","dx":-25,"dy":150,"baseline":"alphabetic","color":"#262626"},"data":{"values":[{"x":43515,"y":128.5}]},"encoding":{"x":{"field":"x","type":"quantitative","axis":null},"y":{"field":"y","type":"quantitative","axis":null}}},{"mark":{"type":"text","text":"4","fontSize":42,"align":"left","dx":-25,"dy":129,"baseline":"alphabetic","color":"#262626"},"data":{"values":[{"x":43515,"y":128.5}]},"encoding":{"x":{"field":"x","type":"quantitative","axis":null},"y":{"field":"y","type":"quantitative","axis":null}}},{"mark":{"type":"text","text":"×10","fontSize":46,"align":"right","dx":209,"dy":-20,"baseline":"alphabetic","color":"#262626"},"data":{"values":[{"x":43515,"y":0.5}]},"encoding":{"x":{"field":"x","type":"quantitative","axis":null},"y":{"field":"y","type":"quantitative","axis":null}}},{"mark":{"type":"text","text":"6","fontSize":36,"align":"left","dx":211,"dy":-42,"baseline":"alphabetic","color":"#262626"},"data":{"values":[{"x":43515,"y":0.5}]},"encoding":{"x":{"field":"x","type":"quantitative","axis":null},"y":{"field":"y","type":"quantitative","axis":null}}},{"mark":{"type":"text","text":"(a)","font":"Liberation Serif","fontWeight":"bold","fontSize":70,"align":"center","dx":-438,"dy":266,"baseline":"alphabetic","color":"#000000"},"data":{"values":[{"x":43515,"y":128.5}]},"encoding":{"x":{"field":"x","type":"quantitative","axis":null},"y":{"field":"y","type":"quantitative","axis":null}}}],"resolve":{"axis":{"x":"independent","y":"independent"}}},{"width":1005,"height":880,"layer":[{"data":{"name":"bb"},"mark":"rect","encoding":{"y":{"field":"y","type":"quantitative","scale":{"domain":[0.5,128.5],"reverse":true,"nice":false,"zero":false},"axis":{"values":[20,40,60,80,100,120],"title":"Pulse number","titlePadding":12,"labelPadding":29}},"y2":{"field":"y2"},"color":{"field":"v","type":"quantitative","scale":{"domain":[0.02,3.83],"interpolate":"rgb","range":["#3e26a8","#4537dc","#4558f7","#2f78f7","#1f95e6","#0fabd0","#15b9b0","#45c680","#85cc52","#c4ba2c","#f5b83a","#fcd030","#f9fb15"]},"legend":{"orient":"none","legendX":1076,"legendY":0,"gradientLength":880,"gradientThickness":53,"title":null,"values":[0.5,1,1.5,2,2.5,3,3.5],"format":"~g","labelOverlap":false,"gradientStrokeColor":"#262626","gradientStrokeWidth":2,"labelOffset":16}}}},{"data":{"name":"bs"},"mark":"rect","encoding":{"x":{"field":"x","type":"quantitative","scale":{"domain":[91485,94515],"nice":false,"zero":false},"axis":{"values":[91500,92000,92500,93000,93500,94000,94500],"labelExpr":"format(datum.value/10000,'~g')","title":"Range(m)","titlePadding":18,"labelPadding":37}},"x2":{"field":"x2"},"y":{"field":"y","type":"quantitative","axis":null},"y2":{"field":"y2"},"color":{"field":"v","type":"quantitative"}}},{"data":{"values":[{"x":91500,"y":1}]},"mark":{"type":"rule","opacity":0},"encoding":{"x":{"field":"x","type":"quantitative","axis":{"orient":"top","labels":false,"title":null,"values":[91500,92000,92500,93000,93500,94000,94500],"zindex":1}},"y":{"field":"y","type":"quantitative","axis":{"orient":"right","labels":false,"title":null,"values":[20,40,60,80,100,120],"zindex":1}}}},{"mark":{"type":"text","text":"×10","fontSize":50,"align":"right","dx":-25,"dy":150,"baseline":"alphabetic","color":"#262626"},"data":{"values":[{"x":94515,"y":128.5}]},"encoding":{"x":{"field":"x","type":"quantitative","axis":null},"y":{"field":"y","type":"quantitative","axis":null}}},{"mark":{"type":"text","text":"4","fontSize":42,"align":"left","dx":-25,"dy":129,"baseline":"alphabetic","color":"#262626"},"data":{"values":[{"x":94515,"y":128.5}]},"encoding":{"x":{"field":"x","type":"quantitative","axis":null},"y":{"field":"y","type":"quantitative","axis":null}}},{"mark":{"type":"text","text":"×10","fontSize":46,"align":"right","dx":209,"dy":-20,"baseline":"alphabetic","color":"#262626"},"data":{"values":[{"x":94515,"y":0.5}]},"encoding":{"x":{"field":"x","type":"quantitative","axis":null},"y":{"field":"y","type":"quantitative","axis":null}}},{"mark":{"type":"text","text":"6","fontSize":36,"align":"left","dx":211,"dy":-42,"baseline":"alphabetic","color":"#262626"},"data":{"values":[{"x":94515,"y":0.5}]},"encoding":{"x":{"field":"x","type":"quantitative","axis":null},"y":{"field":"y","type":"quantitative","axis":null}}},{"mark":{"type":"text","text":"(b)","font":"Liberation Serif","fontWeight":"bold","fontSize":70,"align":"center","dx":-437,"dy":266,"baseline":"alphabetic","color":"#000000"},"data":{"values":[{"x":94515,"y":128.5}]},"encoding":{"x":{"field":"x","type":"quantitative","axis":null},"y":{"field":"y","type":"quantitative","axis":null}}}],"resolve":{"axis":{"x":"independent","y":"independent"}}}]},{"spacing":100,"resolve":{"scale":{"color":"independent"}},"hconcat":[{"width":516,"height":10,"view":{"stroke":null,"fill":null},"data":{"values":[]},"mark":"point"},{"width":991,"height":880,"layer":[{"data":{"name":"cb"},"mark":"rect","encoding":{"y":{"field":"y","type":"quantitative","scale":{"domain":[0.5,128.5],"reverse":true,"nice":false,"zero":false},"axis":{"values":[20,40,60,80,100,120],"title":"Pulse number","titlePadding":12,"labelPadding":29}},"y2":{"field":"y2"},"color":{"field":"v","type":"quantitative","scale":{"domain":[0.016,3.96],"interpolate":"rgb","range":["#3e26a8","#4537dc","#4558f7","#2f78f7","#1f95e6","#0fabd0","#15b9b0","#45c680","#85cc52","#c4ba2c","#f5b83a","#fcd030","#f9fb15"]},"legend":{"orient":"none","legendX":1078,"legendY":0,"gradientLength":880,"gradientThickness":53,"title":null,"values":[0.5,1,1.5,2,2.5,3,3.5],"format":"~g","labelOverlap":false,"gradientStrokeColor":"#262626","gradientStrokeWidth":2,"labelOffset":16}}}},{"data":{"name":"cs"},"mark":"rect","encoding":{"x":{"field":"x","type":"quantitative","scale":{"domain":[126485,129515],"nice":false,"zero":false},"axis":{"values":[126500,127000,127500,128000,128500,129000,129500],"labelExpr":"format(datum.value/100000,'~g')","title":"Range(m)","titlePadding":18,"labelPadding":37}},"x2":{"field":"x2"},"y":{"field":"y","type":"quantitative","axis":null},"y2":{"field":"y2"},"color":{"field":"v","type":"quantitative"}}},{"data":{"values":[{"x":126500,"y":1}]},"mark":{"type":"rule","opacity":0},"encoding":{"x":{"field":"x","type":"quantitative","axis":{"orient":"top","labels":false,"title":null,"values":[126500,127000,127500,128000,128500,129000,129500],"zindex":1}},"y":{"field":"y","type":"quantitative","axis":{"orient":"right","labels":false,"title":null,"values":[20,40,60,80,100,120],"zindex":1}}}},{"mark":{"type":"text","text":"×10","fontSize":50,"align":"right","dx":-25,"dy":150,"baseline":"alphabetic","color":"#262626"},"data":{"values":[{"x":129515,"y":128.5}]},"encoding":{"x":{"field":"x","type":"quantitative","axis":null},"y":{"field":"y","type":"quantitative","axis":null}}},{"mark":{"type":"text","text":"5","fontSize":42,"align":"left","dx":-25,"dy":129,"baseline":"alphabetic","color":"#262626"},"data":{"values":[{"x":129515,"y":128.5}]},"encoding":{"x":{"field":"x","type":"quantitative","axis":null},"y":{"field":"y","type":"quantitative","axis":null}}},{"mark":{"type":"text","text":"×10","fontSize":46,"align":"right","dx":220,"dy":-20,"baseline":"alphabetic","color":"#262626"},"data":{"values":[{"x":129515,"y":0.5}]},"encoding":{"x":{"field":"x","type":"quantitative","axis":null},"y":{"field":"y","type":"quantitative","axis":null}}},{"mark":{"type":"text","text":"6","fontSize":36,"align":"left","dx":222,"dy":-42,"baseline":"alphabetic","color":"#262626"},"data":{"values":[{"x":129515,"y":0.5}]},"encoding":{"x":{"field":"x","type":"quantitative","axis":null},"y":{"field":"y","type":"quantitative","axis":null}}},{"mark":{"type":"text","text":"(c)","font":"Liberation Serif","fontWeight":"bold","fontSize":70,"align":"center","dx":-423,"dy":265,"baseline":"alphabetic","color":"#000000"},"data":{"values":[{"x":129515,"y":128.5}]},"encoding":{"x":{"field":"x","type":"quantitative","axis":null},"y":{"field":"y","type":"quantitative","axis":null}}}],"resolve":{"axis":{"x":"independent","y":"independent"}}}]}]}
